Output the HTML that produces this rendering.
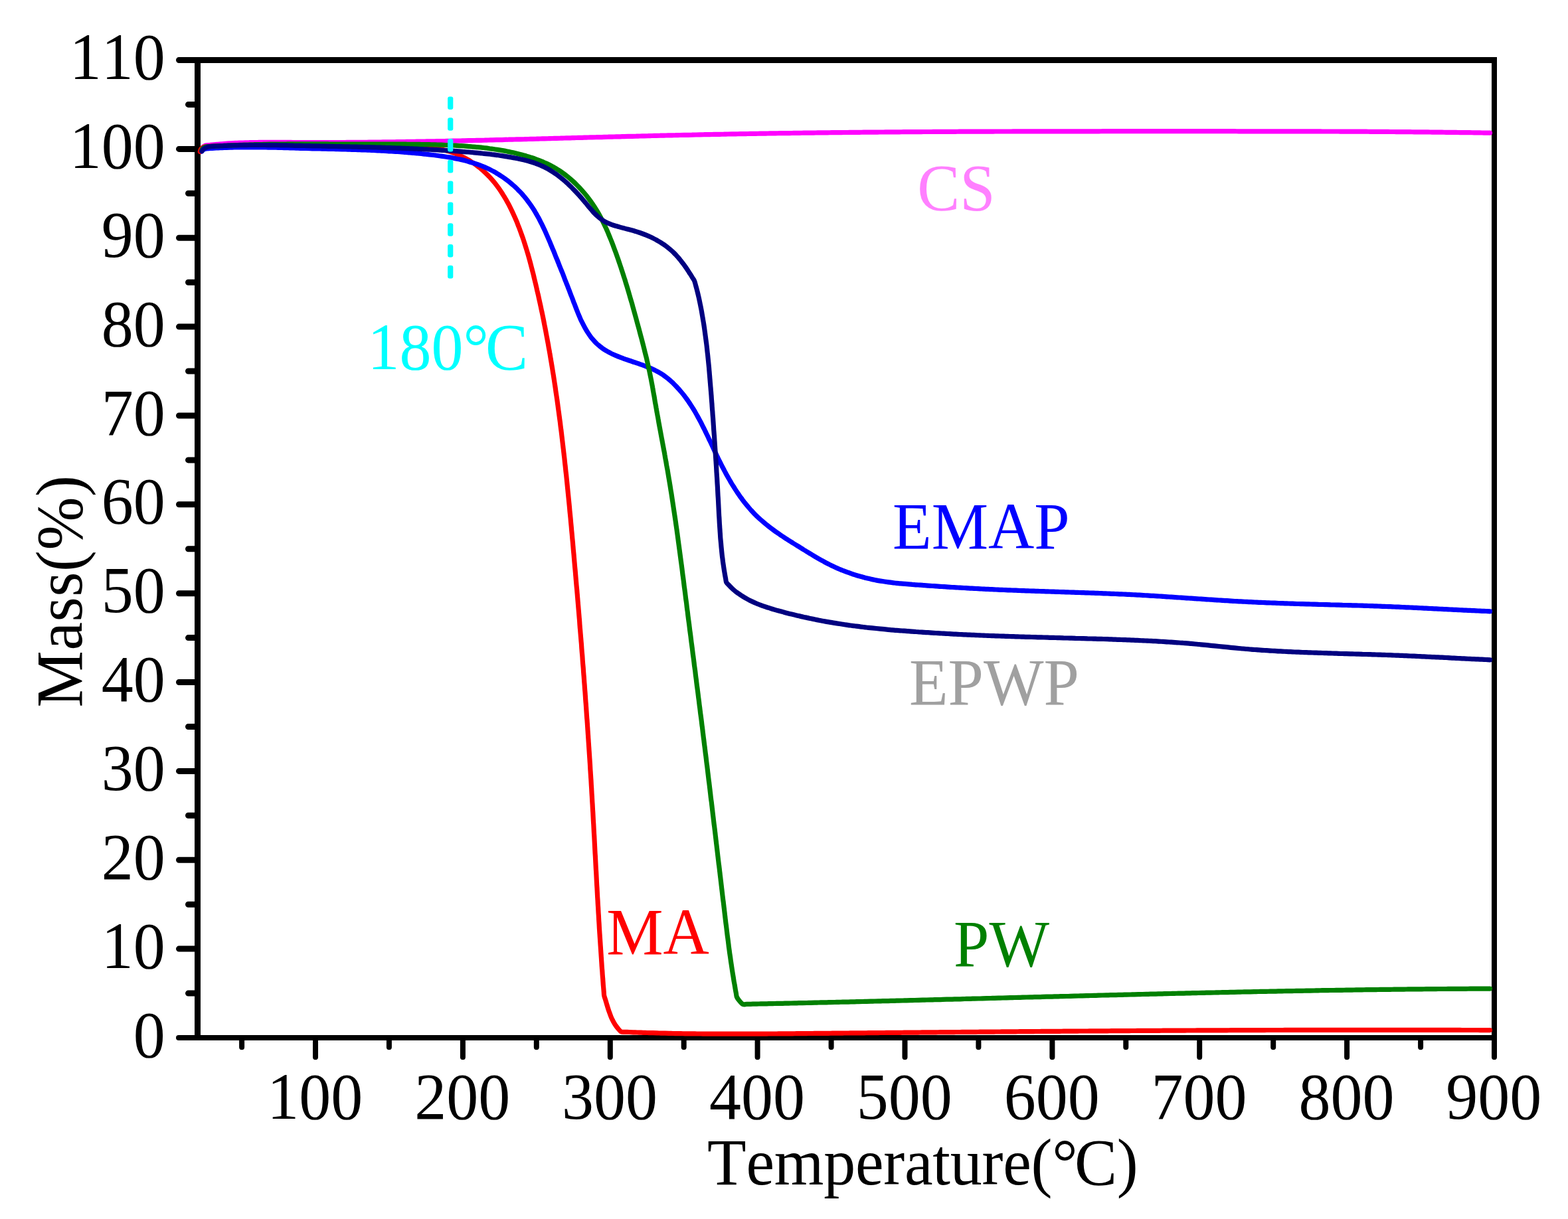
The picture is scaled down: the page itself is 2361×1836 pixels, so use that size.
<!DOCTYPE html>
<html lang="en">
<head>
<meta charset="utf-8">
<title>TG curves: Mass(%) vs Temperature(°C)</title>
<style>
html,body{margin:0;padding:0;background:#fff;}
body{width:2361px;height:1836px;overflow:hidden;}
svg{display:block;}
text{font-family:"Liberation Serif","DejaVu Serif",serif;font-size:96px;font-kerning:none;}
.c{fill:none;stroke-width:7.2;stroke-linejoin:round;stroke-linecap:round;}
</style>
</head>
<body>
<svg width="2361" height="1836" viewBox="0 0 2361 1836" role="img" aria-label="Thermogravimetric curves: Mass(%) versus Temperature(°C) for CS, EMAP, EPWP, MA and PW">
<rect width="2361" height="1836" fill="#fff"/>
<g id="ticks" stroke="#000" stroke-linecap="round" fill="none">
<path stroke-width="9" d="M297.5,1496.1H283.5M297.5,1429.1H269.5M297.5,1362.2H283.5M297.5,1295.3H269.5M297.5,1228.3H283.5M297.5,1161.4H269.5M297.5,1094.5H283.5M297.5,1027.5H269.5M297.5,960.6H283.5M297.5,893.7H269.5M297.5,826.8H283.5M297.5,759.8H269.5M297.5,692.9H283.5M297.5,626.0H269.5M297.5,559.0H283.5M297.5,492.1H269.5M297.5,425.2H283.5M297.5,358.2H269.5M297.5,291.3H283.5M297.5,224.4H269.5M297.5,157.4H283.5M297.5,90.5H269.5"/>
<path stroke-width="8" d="M297.5,1563.0H269.0"/>
<path stroke-width="8" d="M364.1,1563.0V1577.3M475.0,1563.0V1592.2M585.9,1563.0V1577.3M696.9,1563.0V1592.2M807.8,1563.0V1577.3M918.8,1563.0V1592.2M1029.7,1563.0V1577.3M1140.6,1563.0V1592.2M1251.6,1563.0V1577.3M1362.5,1563.0V1592.2M1473.4,1563.0V1577.3M1584.4,1563.0V1592.2M1695.3,1563.0V1577.3M1806.2,1563.0V1592.2M1917.2,1563.0V1577.3M2028.1,1563.0V1592.2M2139.1,1563.0V1577.3M2250.0,1563.0V1592.2"/>
</g>
<g id="frame" fill="#000">
<rect x="293" y="86" width="9" height="1481"/>
<rect x="2246" y="86" width="8" height="1481"/>
<rect x="293" y="86" width="1961" height="9"/>
<rect x="293" y="1559" width="1961" height="8"/>
</g>
<g id="curves">
<path class="c" stroke="#ff00ff" d="M303.5,226.5c0.2-0.7 0.6-2.8 1.5-4.0c0.9-1.2 2.5-2.6 4.2-3.3c1.7-0.7 4-0.5 6-0.7c2-0.2 4-0.5 6-0.7c2-0.2 3.9-0.3 5.9-0.5c2-0.2 4-0.3 6-0.5c2-0.2 4-0.3 6-0.5c2-0.2 4-0.3 6-0.4c2-0.1 4-0.2 6-0.3c2-0.1 4-0.2 6-0.3c2-0.1 4-0.1 6-0.2c2-0.1 4-0.1 6-0.2c2-0.1 4-0.2 6-0.2c2-0.1 4-0.1 6-0.1c2-0 4-0.1 6-0.1c2-0 4-0.1 6-0.1c2-0 4,0 6,0.0c2-0 4-0.1 6-0.1c2-0 4-0 6,0.0c2,0 4,0.1 6,0.1c2,0 4,0 6,0.0c2,0 4.1,0 6.1,0.0c2,0 4-0 6,0.0c2,0 4,0.1 6,0.1c2,0 4,0 6,0.0c2,0 4-0 6,0.0c2,0 4,0.1 6,0.1c2,0 4,0 6,0.0c2,0 4,0 6,0.0c2,0 4,0 6,0.0c2,0 4,0 6,0.0c2,0 4,0 6,0.0c2,0 4.1,0 6.1,0.0c2,0 4,0 6,0.0c2-0 4-0.1 6-0.1c2-0 4,0 6,0.0c2,0 4,0 6,0.0c2-0 4-0.1 6-0.1c2-0 4,0 6,0.0c2,0 4,0 6,0.0c2-0 4-0.1 6-0.1c2-0 4,0 6,0.0c2-0 4-0.1 6-0.1c2-0 4.1,0 6.1,0.0c2-0 4-0.1 6-0.1c2-0 4-0.1 6-0.1c2-0 4-0.1 6-0.1c2-0 4,0 6,0.0c2-0 4-0.1 6-0.1c2-0 4-0.1 6-0.1c2-0 4-0.1 6-0.1c2-0 4-0.1 6-0.1c2-0 4-0.1 6-0.1c2-0 4-0.1 6-0.1c2-0 4-0.1 6-0.1c2-0 4-0.1 6-0.1c2-0 4.1-0.1 6.1-0.1c2-0 4-0.1 6-0.1c2-0 4-0.1 6-0.1c2-0 4-0.1 6-0.1c2-0 4-0.1 6-0.1c2-0 4-0 6-0.1c2-0.1 4-0.1 6-0.2c2-0.1 4-0.1 6-0.1c2-0 4-0.1 6-0.1c2-0 4-0 6-0.1c2-0.1 4-0.1 6-0.2c2-0.1 4-0.1 6-0.1c2-0 4-0.1 6-0.1c2-0 4-0.2 6-0.2c2-0 4-0 6-0.1c2-0.1 4.1-0.2 6.1-0.2c2-0.1 4-0 6-0.1c2-0.1 4-0.1 6-0.2c2-0.1 4-0.1 6-0.1c2-0 4-0.1 6-0.1c2-0 4-0.1 6-0.2c2-0.1 4-0.2 6-0.2c2-0.1 4-0.1 6-0.1c2-0 4-0.2 6-0.2c2-0 4-0 6-0.1c2-0.1 4-0.2 6-0.2c2-0.1 4-0 6-0.1c2-0.1 4-0.1 6-0.2c2-0.1 4-0.1 6-0.1c2-0.1 4-0.1 6-0.2c2-0.1 4-0.1 6-0.2c2-0.1 4.1-0.1 6.1-0.1c2-0.1 4-0.1 6-0.2c2-0.1 4-0.1 6-0.2c2-0.1 4-0.1 6-0.1c2-0.1 4-0.1 6-0.2c2-0.1 4-0 6-0.1c2-0.1 4-0.1 6-0.2c2-0.1 4-0.1 6-0.2c2-0.1 4-0 6-0.1c2-0.1 4-0.1 6-0.2c2-0.1 4-0.1 6-0.2c2-0.1 4-0 6-0.1c2-0.1 4-0.2 6-0.2c2-0.1 4-0.1 6-0.1c2-0 4-0.1 6-0.2c2-0.1 4-0.2 6-0.2c2-0.1 4.1-0.1 6.1-0.1c2-0 4-0.2 6-0.2c2-0 4-0 6-0.1c2-0.1 4-0.1 6-0.2c2-0.1 4-0.2 6-0.2c2-0 4-0 6-0.1c2-0.1 4-0.2 6-0.2c2-0.1 4-0 6-0.1c2-0.1 4-0.1 6-0.2c2-0.1 4-0.1 6-0.1c2-0.1 4-0.1 6-0.2c2-0.1 4-0 6-0.1c2-0.1 4-0.2 6-0.2c2-0.1 4-0.1 6-0.1c2-0 4-0.2 6-0.2c2-0 4.1-0.1 6.1-0.1c2-0 4-0.1 6-0.1c2-0.1 4-0.1 6-0.2c2-0.1 4-0.1 6-0.1c2-0 4-0 6-0.1c2-0.1 4-0.2 6-0.2c2-0.1 4-0.1 6-0.1c2-0 4-0 6-0.1c2-0.1 4-0.2 6-0.2c2-0.1 4-0.1 6-0.1c2-0 4-0.1 6-0.1c2-0 4-0.1 6-0.1c2-0 4-0.1 6-0.1c2-0 4-0.1 6-0.1c2-0.1 4-0.1 6-0.2c2-0.1 4.1-0.1 6.1-0.1c2-0 4-0.1 6-0.1c2-0 4-0.1 6-0.1c2-0 4-0.1 6-0.1c2-0 4-0.1 6-0.1c2-0 4-0.1 6-0.1c2-0 4-0.1 6-0.1c2-0 4-0.1 6-0.1c2-0 4-0.1 6-0.1c2-0 4-0.1 6-0.1c2-0 4-0.1 6-0.1c2-0 4-0.1 6-0.1c2-0 4-0.1 6-0.1c2-0 4,0 6,0.0c2-0 4.1-0.1 6.1-0.1c2-0 4-0.1 6-0.1c2-0 4-0.1 6-0.1c2-0 4-0.1 6-0.1c2-0 4-0.1 6-0.1c2-0 4,0 6,0.0c2-0 4-0.1 6-0.1c2-0 4-0.1 6-0.1c2-0 4-0.1 6-0.1c2-0 4,0 6,0.0c2-0 4-0.1 6-0.1c2-0 4-0.1 6-0.1c2-0 4,0 6,0.0c2-0 4.1-0.1 6.1-0.1c2-0 4-0.1 6-0.1c2-0 4,0 6,0.0c2-0 4-0.1 6-0.1c2-0 4,0 6,0.0c2-0 4-0.1 6-0.1c2-0 4-0.1 6-0.1c2-0 4,0 6,0.0c2-0 4-0.1 6-0.1c2-0 4,0 6,0.0c2-0 4-0.1 6-0.1c2-0 4,0 6,0.0c2-0 4.1-0.1 6.1-0.1c2-0 4,0 6,0.0c2-0 4-0.1 6-0.1c2-0 4,0 6,0.0c2-0 4-0.1 6-0.1c2-0 4,0 6,0.0c2,0 4,0 6,0.0c2-0 4-0.1 6-0.1c2-0 4,0 6,0.0c2-0 4-0.1 6-0.1c2-0 4,0 6,0.0c2,0 4,0 6,0.0c2-0 4.1-0.1 6.1-0.1c2-0 4,0 6,0.0c2,0 4,0 6,0.0c2-0 4-0.1 6-0.1c2-0 4,0 6,0.0c2,0 4,0 6,0.0c2-0 4-0.1 6-0.1c2-0 4,0 6,0.0c2,0 4,0 6,0.0c2,0 4,0 6,0.0c2-0 4-0.1 6-0.1c2-0 4,0 6,0.0c2,0 4.1,0 6.1,0.0c2,0 4,0 6,0.0c2,0 4,0 6,0.0c2-0 4-0.1 6-0.1c2-0 4,0 6,0.0c2,0 4,0 6,0.0c2,0 4,0 6,0.0c2,0 4,0 6,0.0c2-0 4-0.1 6-0.1c2-0 4,0 6,0.0c2,0 4,0 6,0.0c2,0 4,0 6,0.0c2,0 4.1,0 6.1,0.0c2,0 4,0 6,0.0c2,0 4,0 6,0.0c2,0 4,0 6,0.0c2-0 4-0.1 6-0.1c2-0 4,0 6,0.0c2,0 4,0 6,0.0c2,0 4,0 6,0.0c2,0 4,0 6,0.0c2,0 4,0 6,0.0c2,0 4,0 6,0.0c2,0 4,0 6,0.0c2,0 4.1,0 6.1,0.0c2,0 4,0 6,0.0c2,0 4,0 6,0.0c2,0 4,0 6,0.0c2,0 4,0 6,0.0c2,0 4,0 6,0.0c2-0 4-0.1 6-0.1c2-0 4,0 6,0.0c2,0 4,0 6,0.0c2,0 4,0 6,0.0c2,0 4,0 6,0.0c2,0 4.1,0 6.1,0.0c2,0 4,0 6,0.0c2,0 4,0 6,0.0c2,0 4,0 6,0.0c2,0 4,0 6,0.0c2,0 4,0 6,0.0c2,0 4,0 6,0.0c2,0 4,0 6,0.0c2,0 4,0 6,0.0c2,0 4,0 6,0.0c2,0 4,0 6,0.0c2,0 4,0 6,0.0c2,0 4.1,0 6.1,0.0c2,0 4,0 6,0.0c2,0 4,0 6,0.0c2,0 4,0 6,0.0c2,0 4,0 6,0.0c2,0 4,0 6,0.0c2,0 4,0 6,0.0c2,0 4,0 6,0.0c2,0 4,0 6,0.0c2,0 4,0 6,0.0c2,0 4,0 6,0.0c2,0 4,0 6,0.0c2,0 4.1,0 6.1,0.0c2,0 4,0 6,0.0c2,0 4,0 6,0.0c2,0 4,0 6,0.0c2,0 4-0 6,0.0c2,0 4,0.1 6,0.1c2,0 4,0 6,0.0c2,0 4,0 6,0.0c2,0 4,0 6,0.0c2,0 4,0 6,0.0c2,0 4,0 6,0.0c2,0 4,0 6,0.0c2,0 4.1,0 6.1,0.0c2,0 4,0 6,0.0c2,0 4,0 6,0.0c2,0 4,0 6,0.0c2,0 4,0 6,0.0c2,0 4,0 6,0.0c2,0 4,0 6,0.0c2,0 4-0 6,0.0c2,0 4,0.1 6,0.1c2,0 4,0 6,0.0c2,0 4,0 6,0.0c2,0 4,0 6,0.0c2,0 4.1,0 6.1,0.0c2,0 4-0 6,0.0c2,0 4,0.1 6,0.1c2,0 4,0 6,0.0c2,0 4,0 6,0.0c2,0 4,0 6,0.0c2,0 4-0 6,0.0c2,0 4,0.1 6,0.1c2,0 4,0 6,0.0c2,0 4,0 6,0.0c2,0 4-0 6,0.0c2,0 4,0.1 6,0.1c2,0 4.1,0 6.1,0.0c2,0 4-0 6,0.0c2,0 4,0.1 6,0.1c2,0 4-0 6,0.0c2,0 4,0.1 6,0.1c2,0 4,0 6,0.0c2,0 4-0 6,0.0c2,0 4,0.1 6,0.1c2,0 4-0 6,0.0c2,0 4,0.1 6,0.1c2,0 4-0 6,0.0c2,0 4,0.1 6,0.1c2,0 4-0 6,0.0c2,0 4.1,0.1 6.1,0.1c2,0 4-0 6,0.0c2,0 4,0.1 6,0.1c2,0 4-0 6,0.0c2,0 4,0.1 6,0.1c2,0 4,0.1 6,0.1c2,0 4-0 6,0.0c2,0 4,0.1 6,0.1c2,0 4,0.1 6,0.1c2,0 4-0 6,0.0c2,0 4,0.1 6,0.1c2,0 4,0.1 6,0.1c2,0 4,0.1 6,0.1c2,0 4.1,0.1 6.1,0.1c2,0 4-0 6,0.0c2,0 4,0.1 6,0.1c2,0 4,0.1 6,0.1c2,0 4,0.1 6,0.1c2,0 4,0.1 6,0.1c2,0 5,0.1 6,0.1"/>
<path class="c" stroke="#ff0000" d="M301.3,228.5c0.2-0.6 0.4-2.5 1-3.5c0.6-1 1.7-1.8 2.7-2.5c1-0.7 2.2-1.2 3.4-1.5c1.2-0.3 2-0.4 3.6-0.5c1.6-0.1 4-0.1 6-0.2c2-0.1 4-0.2 6-0.2c2-0.1 4-0.1 6-0.1c2-0 4-0.1 6-0.1c2-0 4-0.1 6-0.1c2-0 4-0.1 6-0.1c2-0 4-0.1 6-0.1c2-0 4-0.1 6-0.1c2-0 4-0.1 6-0.1c2-0 4,0 6,0.0c2-0 4-0.1 6-0.1c2-0 4,0 6,0.0c2,0 4.1,0 6.1,0.0c2,0 4,0 6,0.0c2,0 4,0 6,0.0c2,0 4,0 6,0.0c2,0 4-0 6,0.0c2,0 4,0.1 6,0.1c2,0 4,0 6,0.0c2,0 4-0 6,0.0c2,0 4,0.1 6,0.1c2,0 4,0 6,0.0c2,0 4-0 6,0.0c2,0 4,0.1 6,0.1c2,0 4-0 6,0.0c2,0 4,0.1 6,0.1c2,0 4-0 6,0.0c2,0 4,0.1 6,0.1c2,0 4-0 6,0.0c2,0 4,0.1 6,0.1c2,0 4,0 6,0.0c2,0 4,0 6,0.0c2,0 4-0 6,0.0c2,0 4,0.1 6,0.1c2,0 4,0 6,0.0c2,0 4,0 6,0.0c2,0 4,0 6,0.0c2,0 4,0 6,0.0c2,0 4,0 6,0.0c2-0 4-0.1 6-0.1c2-0 4,0 6,0.0c2-0 4-0.1 6-0.1c2-0 4.1,0 6.1,0.0c2-0 4-0.1 6-0.1c2-0 4,0 6,0.0c2,0 4,0 6,0.0c2,0 4-0 6,0.0c2,0 4,0.1 6,0.1c2,0 4,0.1 6,0.1c2,0 4,0 6,0.1c2,0.1 4,0.1 6,0.2c2,0.1 4,0.2 6,0.3c2,0.1 4,0.2 6,0.3c2,0.1 4,0.3 6,0.5c2,0.2 4,0.3 6,0.5c2,0.2 3.9,0.4 5.9,0.6c2,0.2 4,0.4 6,0.7c2,0.3 4,0.6 6,0.9c2,0.3 3.9,0.8 5.9,1.2c2,0.4 3.9,1 5.8,1.5c1.9,0.5 3.8,1.1 5.7,1.7c1.9,0.6 3.8,1.3 5.7,2.0c1.9,0.7 3.7,1.4 5.6,2.2c1.9,0.8 3.7,1.6 5.5,2.5c1.8,0.9 3.5,1.8 5.3,2.7c1.8,0.9 3.6,1.9 5.3,2.9c1.7,1 3.4,2.1 5.1,3.2c1.7,1.1 3.4,2.1 5,3.3c1.6,1.2 3.2,2.4 4.8,3.6c1.6,1.2 3.2,2.4 4.7,3.7c1.5,1.3 3,2.6 4.5,4.0c1.5,1.4 2.9,2.7 4.3,4.1c1.4,1.4 2.8,2.8 4.2,4.3c1.4,1.4 2.7,2.9 4,4.4c1.3,1.5 2.6,3 3.8,4.6c1.2,1.6 2.4,3.2 3.6,4.8c1.2,1.6 2.4,3.2 3.5,4.8c1.1,1.6 2.2,3.3 3.3,5.0c1.1,1.7 2.1,3.4 3.2,5.1c1,1.7 2.1,3.4 3.1,5.2c1,1.8 1.9,3.5 2.9,5.3c1,1.8 1.9,3.5 2.8,5.3c0.9,1.8 1.8,3.6 2.7,5.4c0.9,1.8 1.7,3.7 2.5,5.5c0.8,1.8 1.7,3.7 2.5,5.5c0.8,1.8 1.6,3.7 2.4,5.5c0.8,1.8 1.5,3.7 2.2,5.6c0.7,1.9 1.5,3.7 2.2,5.6c0.7,1.9 1.4,3.8 2.1,5.7c0.7,1.9 1.3,3.7 2,5.6c0.7,1.9 1.4,3.8 2,5.7c0.6,1.9 1.2,3.8 1.8,5.7c0.6,1.9 1.2,3.8 1.8,5.7c0.6,1.9 1.2,3.9 1.8,5.8c0.6,1.9 1.1,3.8 1.7,5.7c0.5,1.9 1.1,3.9 1.6,5.8c0.5,1.9 1.1,3.9 1.6,5.8c0.5,1.9 1,3.9 1.5,5.8c0.5,1.9 1,3.9 1.5,5.8c0.5,1.9 1,3.8 1.5,5.8c0.5,1.9 0.9,4 1.4,5.9c0.5,1.9 0.9,3.9 1.4,5.8c0.5,1.9 0.9,3.9 1.4,5.9c0.5,1.9 0.9,3.9 1.3,5.8c0.5,1.9 0.9,3.9 1.4,5.8c0.5,1.9 0.9,3.9 1.3,5.9c0.4,2 0.9,3.9 1.3,5.9c0.4,1.9 0.9,3.9 1.3,5.8c0.4,1.9 0.8,4 1.2,5.9c0.4,1.9 0.9,3.8 1.3,5.8c0.4,1.9 0.8,3.9 1.2,5.9c0.4,2 0.8,3.9 1.2,5.9c0.4,2 0.7,3.9 1.1,5.9c0.4,2 0.8,3.9 1.2,5.9c0.4,2 0.7,3.9 1.1,5.9c0.4,1.9 0.7,3.9 1.1,5.8c0.4,1.9 0.7,3.9 1.1,5.9c0.4,2 0.8,3.9 1.1,5.9c0.4,2 0.6,3.9 1,5.9c0.4,2 0.8,4 1.1,6.0c0.4,2 0.7,3.9 1,5.9c0.3,2 0.7,3.9 1,5.9c0.3,2 0.7,3.9 1,5.9c0.3,2 0.7,3.9 1,5.9c0.3,2 0.6,3.9 0.9,5.9c0.3,2 0.7,4 1,6.0c0.3,2 0.6,3.9 0.9,5.9c0.3,2 0.6,3.9 0.9,5.9c0.3,2 0.6,3.9 0.9,5.9c0.3,2 0.5,4 0.8,6.0c0.3,2 0.6,3.9 0.9,5.9c0.3,2 0.6,4 0.9,6.0c0.3,2 0.5,3.9 0.8,5.9c0.3,2 0.5,4 0.8,6.0c0.3,2 0.5,3.9 0.8,5.9c0.3,2 0.5,4 0.8,6.0c0.3,2 0.5,3.9 0.8,5.9c0.3,2 0.6,4 0.8,6.0c0.2,2 0.4,3.9 0.7,5.9c0.2,2 0.6,4 0.8,6.0c0.2,2 0.5,3.9 0.7,5.9c0.2,2 0.5,4 0.7,6.0c0.2,2 0.5,4 0.7,6.0c0.2,2 0.5,3.9 0.7,5.9c0.2,2 0.5,4 0.7,6.0c0.2,2 0.5,4 0.7,6.0c0.2,2 0.5,3.9 0.7,5.9c0.2,2 0.4,4 0.6,6.0c0.2,2 0.5,4 0.7,6.0c0.2,2 0.4,4 0.6,6.0c0.2,2 0.5,3.9 0.7,5.9c0.2,2 0.4,4 0.6,6.0c0.2,2 0.4,4 0.6,6.0c0.2,2 0.4,4 0.6,6.0c0.2,2 0.4,3.9 0.6,5.9c0.2,2 0.4,4 0.6,6.0c0.2,2 0.4,4 0.6,6.0c0.2,2 0.4,4 0.6,6.0c0.2,2 0.4,4 0.6,6.0c0.2,2 0.3,4 0.5,6.0c0.2,2 0.4,3.9 0.6,5.9c0.2,2 0.4,4 0.6,6.0c0.2,2 0.3,4 0.5,6.0c0.2,2 0.4,4 0.6,6.0c0.2,2 0.3,4 0.5,6.0c0.2,2 0.4,4 0.6,6.0c0.2,2 0.3,3.9 0.5,5.9c0.2,2 0.4,4 0.6,6.0c0.2,2 0.3,4 0.5,6.0c0.2,2 0.3,4 0.5,6.0c0.2,2 0.4,4 0.6,6.0c0.2,2 0.3,4 0.5,6.0c0.2,2 0.3,3.9 0.5,5.9c0.2,2 0.3,4 0.5,6.0c0.2,2 0.4,4 0.6,6.0c0.2,2 0.3,4 0.5,6.0c0.2,2 0.3,4 0.5,6.0c0.2,2 0.3,4 0.5,6.0c0.2,2 0.3,3.9 0.5,5.9c0.2,2 0.4,4 0.6,6.0c0.2,2 0.3,4 0.5,6.0c0.2,2 0.3,4 0.5,6.0c0.2,2 0.3,4 0.5,6.0c0.2,2 0.3,4 0.5,6.0c0.2,2 0.3,3.9 0.5,5.9c0.2,2 0.3,4 0.5,6.0c0.2,2 0.3,4 0.5,6.0c0.2,2 0.4,4 0.5,6.0c0.1,2 0.2,4 0.4,6.0c0.1,2 0.3,3.9 0.5,5.9c0.2,2 0.3,4 0.5,6.0c0.2,2 0.3,4 0.5,6.0c0.2,2 0.3,4 0.5,6.0c0.2,2 0.4,4 0.5,6.0c0.1,2 0.2,3.9 0.4,5.9c0.1,2 0.3,4 0.5,6.0c0.2,2 0.4,4 0.5,6.0c0.1,2 0.2,4 0.4,6.0c0.1,2 0.3,4 0.5,6.0c0.2,2 0.4,4 0.5,6.0c0.1,2 0.2,3.9 0.4,5.9c0.1,2 0.4,4 0.5,6.0c0.1,2 0.3,4 0.4,6.0c0.1,2 0.4,4 0.5,6.0c0.1,2 0.2,4 0.4,6.0c0.1,2 0.4,3.9 0.5,5.9c0.1,2 0.3,4 0.4,6.0c0.1,2 0.2,4 0.4,6.0c0.1,2 0.4,4 0.5,6.0c0.1,2 0.3,4 0.4,6.0c0.1,2 0.3,4 0.4,6.0c0.1,2 0.2,4 0.4,6.0c0.1,2 0.4,3.9 0.5,5.9c0.1,2 0.3,4 0.4,6.0c0.1,2 0.3,4 0.4,6.0c0.1,2 0.3,4 0.4,6.0c0.1,2 0.3,4 0.4,6.0c0.1,2 0.3,4 0.4,6.0c0.1,2 0.3,4 0.4,6.0c0.1,2 0.3,3.9 0.4,5.9c0.1,2 0.3,4 0.4,6.0c0.1,2 0.3,4 0.4,6.0c0.1,2 0.3,4 0.4,6.0c0.1,2 0.3,4 0.4,6.0c0.1,2 0.2,4 0.3,6.0c0.1,2 0.3,4 0.4,6.0c0.1,2 0.3,4 0.4,6.0c0.1,2 0.3,4 0.4,6.0c0.1,2 0.2,3.9 0.3,5.9c0.1,2 0.3,4 0.4,6.0c0.1,2 0.2,4 0.3,6.0c0.1,2 0.3,4 0.4,6.0c0.1,2 0.2,4 0.3,6.0c0.1,2 0.3,4 0.4,6.0c0.1,2 0.2,4 0.3,6.0c0.1,2 0.3,4 0.4,6.0c0.1,2 0.2,4 0.3,6.0c0.1,2 0.2,4 0.3,6.0c0.1,2 0.3,4 0.4,6.0c0.1,2 0.2,4 0.3,6.0c0.1,2 0.2,4 0.3,6.0c0.1,2 0.3,4 0.4,6.0c0.1,2 0.2,4 0.3,6.0c0.1,2 0.2,4 0.3,6.0c0.1,2 0.2,4 0.3,6.0c0.1,2 0.2,4 0.3,6.0c0.1,2 0.3,4 0.4,6.0c0.1,2 0.2,4 0.3,6.0c0.1,2 0.2,4 0.3,6.0c0.1,2 0.2,4 0.3,6.0c0.1,2 0.3,4 0.4,6.0c0.1,2 0.2,4 0.3,6.0c0.1,2 0.2,4 0.3,6.0c0.1,2 0.2,4 0.3,6.0c0.1,2 0.3,4 0.4,6.0c0.1,2 0.2,4 0.3,6.0c0.1,2 0.2,4 0.3,6.0c0.1,2 0.3,4 0.4,6.0c0.1,2 0.2,4 0.3,6.0c0.1,2 0.3,4 0.4,6.0c0.1,2 0.2,4 0.3,6.0c0.1,2 0.3,4 0.4,6.0c0.1,2 0.2,4 0.3,6.0c0.1,2 0.3,3.9 0.4,5.9c0.1,2 0.2,4 0.3,6.0c0.1,2 0.3,4 0.4,6.0c0.1,2 0.3,4 0.4,6.0c0.1,2 0.3,4 0.4,6.0c0.1,2 0.3,4 0.4,6.0c0.1,2 0.3,4 0.4,6.0c0.1,2 0.3,4 0.4,6.0c0.1,2 0.3,4 0.4,6.0c0.1,2 0.3,4 0.4,6.0c0.1,2 0.3,4 0.4,6.0c0.1,2 0.2,3.9 0.4,5.9c0.1,2 0.4,4 0.5,6.0c0.1,2 0.2,4 0.4,6.0c0.1,2 0.4,4 0.5,6.0c0.1,2 0.3,4 0.4,6.0c0.1,2 0.3,3.9 0.5,5.9c0.2,2 0.3,4 0.5,6.0c0.2,2 0.1,4 0.5,6.0c0.4,2 1.2,3.8 1.8,5.7c0.6,1.9 1.1,3.9 1.7,5.9c0.6,2 1.2,3.9 1.8,5.9c0.6,2 1.2,3.9 1.9,5.8c0.7,1.9 1.4,3.9 2.1,5.8c0.7,1.9 1.4,3.8 2.3,5.6c0.9,1.8 1.8,3.7 2.8,5.5c1,1.8 2,3.5 3.2,5.1c1.1,1.6 2.4,3.2 3.7,4.7c1.4,1.5 2.7,3.6 4.4,4.4c1.7,0.8 4,0.2 6,0.3c2,0.1 4,0.1 6,0.2c2,0.1 4,0.2 6,0.3c2,0.1 4,0.1 6,0.2c2,0.1 4,0.1 6,0.2c2,0.1 4,0.1 6,0.2c2,0.1 4,0.1 6,0.2c2,0 4,0.1 6,0.1c2,0 4,0.1 6,0.2c2,0.1 3.9,0.1 5.9,0.2c2,0 4,0.1 6,0.1c2,0 4,0 6,0.1c2,0 4,0.2 6,0.2c2,0 4,0.1 6,0.1c2,0 4,0.1 6,0.1c2,0 4,0.1 6,0.1c2,0 4-0 6,0.0c2,0 4,0.1 6,0.1c2,0 4,0.1 6,0.1c2,0 4-0 6,0.0c2,0 4,0.1 6,0.1c2,0 4-0 6,0.0c2,0 4,0.1 6,0.1c2,0 4,0 6,0.0c2,0 4,0 6,0.0c2,0 4,0 6,0.0c2,0 4,0 6,0.0c2,0 4,0 6,0.0c2,0 4,0 6,0.0c2,0 4,0 6,0.0c2,0 4,0 6,0.0c2,0 4,0 6,0.0c2,0 4,0 6,0.0c2-0 4-0.1 6-0.1c2-0 4,0 6,0.0c2,0 4,0 6,0.0c2-0 4.1-0.1 6.1-0.1c2-0 4,0 6,0.0c2,0 4,0 6,0.0c2-0 4-0.1 6-0.1c2-0 4,0 6,0.0c2-0 4-0.1 6-0.1c2-0 4,0 6,0.0c2-0 4-0.1 6-0.1c2-0 4-0.1 6-0.1c2-0 4,0 6,0.0c2-0 4-0.1 6-0.1c2-0 4,0 6,0.0c2-0 4-0.1 6-0.1c2-0 4,0 6,0.0c2-0 4-0.1 6-0.1c2-0 4,0 6,0.0c2-0 4-0.1 6-0.1c2-0 4-0.1 6-0.1c2-0 4,0 6,0.0c2-0 4-0.1 6-0.1c2-0 4,0 6,0.0c2-0 4-0.1 6-0.1c2-0 4,0 6,0.0c2-0 4-0.1 6-0.1c2-0 4,0 6,0.0c2-0 4-0.1 6-0.1c2-0 4-0.1 6-0.1c2-0 4,0 6,0.0c2-0 4-0.1 6-0.1c2-0 4,0 6,0.0c2-0 4-0.1 6-0.1c2-0 4,0 6,0.0c2-0 4-0.1 6-0.1c2-0 4,0 6,0.0c2-0 4-0.1 6-0.1c2-0 4,0 6,0.0c2-0 4-0.1 6-0.1c2-0 4,0 6,0.0c2-0 4-0.1 6-0.1c2-0 4-0.1 6-0.1c2-0 4,0 6,0.0c2-0 4-0.1 6-0.1c2-0 4,0 6,0.0c2-0 4-0.1 6-0.1c2-0 4,0 6,0.0c2-0 4-0.1 6-0.1c2-0 4,0 6,0.0c2-0 4-0.1 6-0.1c2-0 4,0 6,0.0c2-0 4-0.1 6-0.1c2-0 4,0 6,0.0c2-0 4-0.1 6-0.1c2-0 4,0 6,0.0c2-0 4-0.1 6-0.1c2-0 4,0 6,0.0c2-0 4-0.1 6-0.1c2-0 4,0 6,0.0c2-0 4-0.1 6-0.1c2-0 4,0 6,0.0c2-0 4-0.1 6-0.1c2-0 4,0 6,0.0c2-0 4-0.1 6-0.1c2-0 4,0 6,0.0c2-0 4-0.1 6-0.1c2-0 4,0 6,0.0c2-0 4-0.1 6-0.1c2-0 4,0 6,0.0c2-0 4-0.1 6-0.1c2-0 4,0 6,0.0c2-0 4-0.1 6-0.1c2-0 4,0 6,0.0c2,0 4,0 6,0.0c2-0 4-0.1 6-0.1c2-0 4,0 6,0.0c2-0 4-0.1 6-0.1c2-0 4,0 6,0.0c2-0 4-0.1 6-0.1c2-0 4,0 6,0.0c2-0 4-0.1 6-0.1c2-0 4,0 6,0.0c2,0 4,0 6,0.0c2-0 4-0.1 6-0.1c2-0 4,0 6,0.0c2-0 4-0.1 6-0.1c2-0 4,0 6,0.0c2,0 4,0 6,0.0c2-0 4-0.1 6-0.1c2-0 4,0 6,0.0c2-0 4-0.1 6-0.1c2-0 4,0 6,0.0c2,0 4,0 6,0.0c2-0 4-0.1 6-0.1c2-0 4,0 6,0.0c2-0 4-0.1 6-0.1c2-0 4,0 6,0.0c2,0 4,0 6,0.0c2-0 4-0.1 6-0.1c2-0 4,0 6,0.0c2,0 4,0 6,0.0c2-0 4-0.1 6-0.1c2-0 4,0 6,0.0c2,0 4,0 6,0.0c2-0 4-0.1 6-0.1c2-0 4,0 6,0.0c2,0 4,0 6,0.0c2-0 4-0.1 6-0.1c2-0 4,0 6,0.0c2,0 4,0 6,0.0c2-0 4-0.1 6-0.1c2-0 4,0 6,0.0c2,0 4,0 6,0.0c2,0 4,0 6,0.0c2-0 4-0.1 6-0.1c2-0 4,0 6,0.0c2,0 4,0 6,0.0c2,0 4,0 6,0.0c2-0 4-0.1 6-0.1c2-0 4,0 6,0.0c2,0 4,0 6,0.0c2,0 4,0 6,0.0c2-0 4-0.1 6-0.1c2-0 4,0 6,0.0c2,0 4,0 6,0.0c2,0 4,0 6,0.0c2,0 4,0 6,0.0c2-0 4-0.1 6-0.1c2-0 4,0 6,0.0c2,0 4,0 6,0.0c2,0 4,0 6,0.0c2,0 4,0 6,0.0c2-0 4-0.1 6-0.1c2-0 4,0 6,0.0c2,0 4,0 6,0.0c2,0 4,0 6,0.0c2,0 4,0 6,0.0c2,0 4,0 6,0.0c2,0 4,0 6,0.0c2-0 4-0.1 6-0.1c2-0 4,0 6,0.0c2,0 4,0 6,0.0c2,0 4,0 6,0.0c2,0 4,0 6,0.0c2,0 4.1,0 6.1,0.0c2,0 4,0 6,0.0c2,0 4,0 6,0.0c2,0 4,0 6,0.0c2,0 4,0 6,0.0c2,0 4,0 6,0.0c2,0 4,0 6,0.0c2,0 4,0 6,0.0c2,0 4,0 6,0.0c2,0 4,0 6,0.0c2,0 4,0 6,0.0c2,0 4,0 6,0.0c2,0 4,0 6,0.0c2,0 4,0 6,0.0c2,0 4,0 6,0.0c2,0 4,0 6,0.0c2,0 4,0 6,0.0c2,0 4,0 6,0.0c2,0 4,0 6,0.0c2,0 4,0 6,0.0c2,0 4,0 6,0.0c2,0 4,0 6,0.0c2,0 4,0 6,0.0c2,0 4,0 6,0.0c2,0 4,0 6,0.0c2,0 4-0 6,0.0c2,0 4,0.1 6,0.1c2,0 4,0 6,0.0c2,0 4,0 6,0.0c2,0 4,0 6,0.0c2,0 4,0 6,0.0c2,0 4-0 6,0.0c2,0 4,0.1 6,0.1c2,0 4,0 6,0.0c2,0 4,0 6,0.0c2,0 4,0 6,0.0c2,0 4-0 6,0.0c2,0 4,0.1 6,0.1c2,0 4,0 6,0.0c2,0 5,0 6,0.0"/>
<path class="c" stroke="#0000ff" d="M304,228.0c0.2-0.3 0.4-1.3 1.5-2.0c1.1-0.7 3.2-1.7 5.1-2.1c1.9-0.4 4-0.3 6-0.4c2-0.1 4-0.3 6-0.4c2-0.1 4-0.2 6-0.3c2-0.1 4-0.1 6-0.2c2-0.1 4-0.2 6-0.3c2-0.1 4-0.1 6-0.1c2-0.1 4-0.1 6-0.2c2-0.1 4-0.1 6-0.1c2-0 4-0.1 6-0.1c2-0 4,0 6,0.0c2,0 4,0 6,0.0c2,0 4,0 6,0.0c2,0 4-0 6,0.0c2,0 4,0.1 6,0.1c2,0 4,0.1 6,0.1c2,0 4,0.1 6,0.1c2,0 4,0.1 6,0.1c2,0 4,0.1 6,0.1c2,0.1 4,0.1 6,0.2c2,0.1 4,0 6,0.1c2,0.1 4,0.1 6,0.2c2,0.1 4.1,0.1 6.1,0.2c2,0.1 4,0 6,0.1c2,0.1 4,0.2 6,0.2c2,0.1 4,0.1 6,0.1c2,0 4,0.1 6,0.2c2,0.1 4,0.2 6,0.2c2,0.1 4,0.1 6,0.1c2,0 4,0.2 6,0.2c2,0 4,0 6,0.1c2,0.1 4,0.2 6,0.2c2,0.1 4,0 6,0.1c2,0.1 4,0.1 6,0.2c2,0.1 4,0.1 6,0.1c2,0.1 4,0.1 6,0.2c2,0.1 4,0.1 6,0.2c2,0.1 4,0.1 6,0.2c2,0.1 4,0.1 6,0.2c2,0.1 4,0.1 6,0.2c2,0.1 4,0.1 6,0.2c2,0.1 3.9,0.1 5.9,0.2c2,0.1 4,0.2 6,0.3c2,0.1 4,0.2 6,0.3c2,0.1 4,0.2 6,0.3c2,0.1 4,0.2 6,0.3c2,0.1 4,0.3 6,0.4c2,0.1 4,0.2 6,0.3c2,0.1 4,0.3 6,0.4c2,0.1 4,0.2 6,0.4c2,0.2 4,0.3 6,0.5c2,0.2 3.9,0.3 5.9,0.5c2,0.2 4,0.3 6,0.5c2,0.2 4,0.3 6,0.5c2,0.2 4,0.4 6,0.6c2,0.2 4,0.5 6,0.7c2,0.2 4,0.4 6,0.6c2,0.2 4,0.4 6,0.7c2,0.2 3.9,0.5 5.9,0.8c2,0.3 4,0.5 6,0.8c2,0.3 4,0.6 6,0.9c2,0.3 3.9,0.6 5.9,0.9c2,0.3 3.9,0.7 5.9,1.1c2,0.4 3.9,0.8 5.9,1.2c2,0.4 3.9,0.8 5.9,1.2c2,0.4 3.9,0.9 5.8,1.4c1.9,0.5 3.9,1.1 5.8,1.6c1.9,0.5 3.8,1.1 5.7,1.7c1.9,0.6 3.8,1.2 5.7,1.8c1.9,0.6 3.8,1.3 5.7,2.0c1.9,0.7 3.7,1.4 5.6,2.2c1.9,0.8 3.7,1.6 5.5,2.4c1.8,0.8 3.6,1.7 5.4,2.6c1.8,0.9 3.5,1.8 5.3,2.8c1.8,1 3.5,2.1 5.2,3.1c1.7,1.1 3.3,2.1 5,3.2c1.7,1.1 3.4,2.2 5,3.4c1.6,1.2 3.2,2.4 4.8,3.6c1.6,1.2 3.2,2.5 4.7,3.8c1.5,1.3 3.1,2.6 4.6,3.9c1.5,1.3 3,2.7 4.4,4.1c1.4,1.4 2.8,2.9 4.2,4.3c1.4,1.4 2.8,2.9 4.1,4.4c1.3,1.5 2.6,3.1 3.9,4.6c1.3,1.6 2.5,3.1 3.7,4.7c1.2,1.6 2.4,3.2 3.6,4.8c1.2,1.6 2.3,3.2 3.4,4.9c1.1,1.6 2.2,3.3 3.2,5.0c1,1.7 2,3.5 3,5.2c1,1.7 2,3.5 3,5.2c1,1.8 1.9,3.5 2.8,5.3c0.9,1.8 1.8,3.5 2.7,5.3c0.9,1.8 1.7,3.6 2.6,5.4c0.9,1.8 1.8,3.7 2.6,5.5c0.8,1.8 1.6,3.7 2.4,5.5c0.8,1.8 1.6,3.6 2.4,5.5c0.8,1.9 1.6,3.7 2.4,5.6c0.8,1.9 1.5,3.8 2.3,5.6c0.8,1.9 1.5,3.7 2.3,5.5c0.8,1.8 1.6,3.7 2.3,5.6c0.8,1.9 1.4,3.8 2.2,5.6c0.8,1.9 1.6,3.6 2.3,5.5c0.8,1.9 1.5,3.8 2.2,5.6c0.7,1.9 1.5,3.6 2.2,5.5c0.8,1.9 1.5,3.7 2.3,5.6c0.8,1.9 1.5,3.7 2.2,5.6c0.7,1.9 1.4,3.7 2.1,5.6c0.7,1.9 1.5,3.6 2.2,5.5c0.7,1.9 1.5,3.7 2.2,5.6c0.7,1.9 1.5,3.7 2.2,5.6c0.7,1.9 1.4,3.7 2.1,5.6c0.7,1.9 1.5,3.7 2.2,5.6c0.7,1.9 1.4,3.7 2.1,5.6c0.7,1.9 1.5,3.7 2.2,5.6c0.7,1.9 1.5,3.8 2.2,5.7c0.7,1.9 1.5,3.8 2.2,5.6c0.8,1.9 1.5,3.7 2.3,5.5c0.8,1.8 1.5,3.7 2.4,5.5c0.9,1.8 1.8,3.6 2.7,5.4c0.9,1.8 1.8,3.6 2.8,5.4c1,1.8 1.9,3.5 3,5.2c1.1,1.7 2.2,3.4 3.3,5.1c1.1,1.7 2.3,3.3 3.5,4.9c1.2,1.6 2.6,3.1 3.9,4.6c1.3,1.5 2.7,2.9 4.1,4.3c1.4,1.4 2.9,2.6 4.4,3.9c1.5,1.2 3.1,2.5 4.7,3.6c1.6,1.1 3.2,2.2 4.9,3.2c1.7,1 3.4,2 5.2,2.9c1.8,0.9 3.5,1.9 5.3,2.7c1.8,0.9 3.6,1.6 5.5,2.4c1.9,0.8 3.7,1.5 5.6,2.2c1.9,0.7 3.8,1.5 5.7,2.2c1.9,0.7 3.9,1.4 5.8,2.0c1.9,0.6 3.9,1.3 5.8,1.9c1.9,0.6 3.9,1.3 5.8,2.0c1.9,0.7 3.8,1.3 5.7,2.0c1.9,0.7 3.8,1.3 5.7,2.0c1.9,0.7 3.7,1.4 5.6,2.1c1.9,0.7 3.8,1.5 5.6,2.3c1.8,0.8 3.6,1.5 5.4,2.4c1.8,0.9 3.5,1.8 5.2,2.7c1.7,1 3.4,2 5.1,3.0c1.7,1 3.4,2.1 5,3.3c1.6,1.1 3.2,2.4 4.8,3.6c1.6,1.2 3.1,2.6 4.6,3.9c1.5,1.3 2.9,2.7 4.4,4.1c1.5,1.4 2.9,2.9 4.3,4.4c1.4,1.5 2.8,2.9 4.1,4.4c1.3,1.5 2.6,3.1 3.9,4.6c1.3,1.5 2.6,3.1 3.8,4.7c1.2,1.6 2.4,3.2 3.6,4.8c1.2,1.6 2.3,3.2 3.4,4.9c1.1,1.6 2.2,3.3 3.3,5.0c1.1,1.7 2.1,3.3 3.2,5.0c1,1.7 2.1,3.4 3.1,5.1c1,1.7 1.9,3.5 2.9,5.2c1,1.8 2,3.5 2.9,5.3c1,1.8 1.9,3.4 2.8,5.2c0.9,1.8 1.8,3.6 2.7,5.4c0.9,1.8 1.8,3.5 2.7,5.3c0.9,1.8 1.7,3.6 2.6,5.4c0.9,1.8 1.7,3.6 2.6,5.4c0.9,1.8 1.7,3.7 2.6,5.5c0.9,1.8 1.8,3.6 2.6,5.4c0.8,1.8 1.7,3.7 2.5,5.5c0.8,1.8 1.7,3.7 2.6,5.5c0.9,1.8 1.7,3.6 2.6,5.4c0.9,1.8 1.7,3.7 2.6,5.5c0.9,1.8 1.8,3.6 2.7,5.4c0.9,1.8 1.8,3.6 2.7,5.4c0.9,1.8 1.9,3.6 2.8,5.4c0.9,1.8 1.9,3.5 2.8,5.3c1,1.8 1.9,3.5 2.9,5.3c1,1.8 2,3.5 3,5.2c1,1.7 2,3.5 3,5.2c1,1.7 2.1,3.4 3.2,5.1c1.1,1.7 2.1,3.4 3.2,5.1c1.1,1.7 2.2,3.4 3.3,5.0c1.1,1.6 2.2,3.3 3.4,4.9c1.2,1.6 2.3,3.2 3.5,4.8c1.2,1.6 2.4,3.1 3.6,4.7c1.2,1.5 2.5,3.1 3.8,4.6c1.3,1.5 2.6,3.1 3.9,4.6c1.3,1.5 2.7,2.9 4,4.4c1.3,1.5 2.7,2.9 4.1,4.3c1.4,1.4 2.8,2.7 4.3,4.1c1.5,1.4 3,2.8 4.5,4.1c1.5,1.3 3,2.6 4.5,3.9c1.5,1.3 3.1,2.5 4.7,3.8c1.6,1.3 3.2,2.6 4.8,3.8c1.6,1.2 3.2,2.4 4.8,3.6c1.6,1.2 3.2,2.4 4.9,3.5c1.6,1.1 3.3,2.3 5,3.4c1.7,1.1 3.3,2.3 5,3.4c1.7,1.1 3.3,2.2 5,3.3c1.7,1.1 3.3,2.1 5,3.2c1.7,1.1 3.4,2.2 5.1,3.2c1.7,1 3.4,2.1 5.1,3.1c1.7,1 3.4,2.1 5.1,3.2c1.7,1.1 3.4,2.2 5.1,3.2c1.7,1 3.4,2.1 5.1,3.1c1.7,1 3.4,2.1 5.1,3.1c1.7,1 3.5,2.1 5.2,3.1c1.7,1 3.4,2 5.1,3.0c1.7,1 3.5,2 5.3,3.0c1.8,1 3.5,2 5.2,2.9c1.8,1 3.5,1.9 5.3,2.8c1.8,0.9 3.6,1.8 5.4,2.7c1.8,0.9 3.6,1.7 5.4,2.5c1.8,0.8 3.6,1.7 5.5,2.5c1.9,0.8 3.7,1.5 5.6,2.3c1.9,0.8 3.7,1.5 5.6,2.2c1.9,0.7 3.7,1.3 5.6,2.0c1.9,0.7 3.8,1.4 5.7,2.0c1.9,0.6 3.8,1.2 5.7,1.8c1.9,0.6 3.9,1.1 5.8,1.6c1.9,0.5 3.8,1.1 5.8,1.6c2,0.5 4,1 5.9,1.4c2,0.4 3.8,0.9 5.8,1.3c2,0.4 3.9,0.8 5.9,1.2c2,0.4 3.9,0.7 5.9,1.0c2,0.3 3.9,0.6 5.9,0.9c2,0.3 4,0.6 6,0.9c2,0.3 3.9,0.5 5.9,0.7c2,0.2 4,0.5 6,0.7c2,0.2 4,0.3 6,0.5c2,0.2 4,0.4 6,0.6c2,0.2 3.9,0.4 5.9,0.5c2,0.1 4,0.2 6,0.4c2,0.1 4,0.4 6,0.5c2,0.1 4,0.3 6,0.4c2,0.1 4,0.4 6,0.5c2,0.1 4,0.3 6,0.4c2,0.1 4,0.3 6,0.4c2,0.1 4,0.3 6,0.4c2,0.1 4,0.3 6,0.4c2,0.1 4,0.3 6,0.4c2,0.1 4,0.3 6,0.4c2,0.1 4,0.3 6,0.4c2,0.1 4,0.2 6,0.3c2,0.1 3.9,0.3 5.9,0.4c2,0.1 4,0.2 6,0.3c2,0.1 4,0.3 6,0.4c2,0.1 4,0.2 6,0.3c2,0.1 4,0.2 6,0.3c2,0.1 4,0.2 6,0.3c2,0.1 4,0.3 6,0.4c2,0.1 4,0.1 6,0.2c2,0.1 4,0.2 6,0.3c2,0.1 4,0.2 6,0.3c2,0.1 4,0.2 6,0.3c2,0.1 4,0.1 6,0.2c2,0.1 4,0.2 6,0.3c2,0.1 4,0.1 6,0.2c2,0.1 4,0.1 6,0.2c2,0.1 4,0.2 6,0.3c2,0.1 4,0.1 6,0.2c2,0.1 4,0.1 6,0.2c2,0.1 4,0.1 6,0.2c2,0.1 4,0.1 6,0.2c2,0.1 4,0.1 6,0.2c2,0.1 4,0.1 6,0.2c2,0.1 4,0.1 6,0.2c2,0.1 4,0.1 6,0.2c2,0.1 4,0.1 6,0.2c2,0.1 4,0.1 6,0.2c2,0.1 4,0.1 6,0.2c2,0.1 4,0.1 6,0.2c2,0.1 4,0.1 6,0.2c2,0.1 4,0.1 6,0.2c2,0.1 4,0.1 6,0.2c2,0.1 4,0.1 6,0.2c2,0.1 4,0.1 6,0.2c2,0.1 4,0.1 6,0.2c2,0.1 4,0.1 6,0.2c2,0.1 4,0.1 6,0.2c2,0.1 4,0.2 6,0.3c2,0.1 4,0.1 6,0.2c2,0.1 4,0.2 6,0.3c2,0.1 4,0.1 6,0.2c2,0.1 4,0.2 6,0.3c2,0.1 4,0.1 6,0.2c2,0.1 4,0.2 6,0.3c2,0.1 4,0.2 6,0.3c2,0.1 4,0.2 6,0.3c2,0.1 4,0.2 6,0.3c2,0.1 4,0.3 6,0.4c2,0.1 4,0.2 6,0.3c2,0.1 4,0.3 6,0.4c2,0.1 4,0.2 6,0.3c2,0.1 4,0.3 6,0.4c2,0.1 4,0.3 6,0.4c2,0.1 4,0.3 6,0.4c2,0.1 4,0.3 6,0.4c2,0.1 3.9,0.3 5.9,0.4c2,0.1 4,0.3 6,0.4c2,0.1 4,0.3 6,0.4c2,0.1 4,0.3 6,0.4c2,0.1 4,0.3 6,0.4c2,0.1 4,0.3 6,0.4c2,0.1 4,0.3 6,0.4c2,0.1 4,0.3 6,0.4c2,0.1 4,0.3 6,0.4c2,0.1 4,0.3 6,0.4c2,0.1 4,0.3 6,0.4c2,0.1 3.9,0.3 5.9,0.4c2,0.1 4,0.3 6,0.4c2,0.1 4,0.2 6,0.3c2,0.1 4,0.3 6,0.4c2,0.1 4,0.3 6,0.4c2,0.1 4,0.2 6,0.3c2,0.1 4,0.2 6,0.3c2,0.1 4,0.2 6,0.3c2,0.1 4,0.2 6,0.3c2,0.1 4,0.2 6,0.3c2,0.1 4,0.2 6,0.3c2,0.1 4,0.1 6,0.2c2,0.1 4,0.2 6,0.3c2,0.1 4,0.1 6,0.2c2,0.1 4,0.1 6,0.2c2,0.1 4,0.2 6,0.3c2,0.1 4,0.1 6,0.2c2,0.1 4,0.1 6,0.2c2,0.1 4,0.1 6,0.2c2,0.1 4,0.1 6,0.2c2,0.1 4,0.2 6,0.2c2,0 4,0.1 6,0.1c2,0 4,0.1 6,0.2c2,0.1 4,0.1 6,0.2c2,0.1 4,0.2 6,0.2c2,0 4,0 6,0.1c2,0 4,0.1 6,0.2c2,0.1 4,0.2 6,0.2c2,0 4,0 6,0.1c2,0 4,0.1 6,0.2c2,0.1 4,0.2 6,0.2c2,0 4,0 6,0.1c2,0 4,0.1 6,0.2c2,0.1 4,0.1 6,0.2c2,0.1 4,0.1 6,0.2c2,0 4,0.1 6,0.1c2,0 4,0.1 6,0.2c2,0.1 4,0.1 6,0.2c2,0.1 4,0.1 6,0.2c2,0.1 4.1,0.1 6.1,0.2c2,0.1 4,0.1 6,0.2c2,0.1 4,0.2 6,0.3c2,0.1 4,0.1 6,0.2c2,0.1 4,0.1 6,0.2c2,0.1 4,0.2 6,0.3c2,0.1 4,0.1 6,0.2c2,0.1 4,0.2 6,0.3c2,0.1 3.9,0.2 5.9,0.3c2,0.1 4,0.1 6,0.2c2,0.1 4,0.2 6,0.3c2,0.1 4,0.2 6,0.3c2,0.1 4,0.2 6,0.3c2,0.1 4,0.2 6,0.3c2,0.1 4,0.2 6,0.3c2,0.1 4,0.2 6,0.3c2,0.1 4,0.2 6,0.3c2,0.1 4,0.2 6,0.3c2,0.1 4,0.2 6,0.3c2,0.1 4,0.2 6,0.3c2,0.1 4,0.2 6,0.3c2,0.1 4,0.2 6,0.3c2,0.1 4,0.2 6,0.3c2,0.1 4,0.2 6,0.3c2,0.1 4,0.1 6,0.2c2,0.1 4,0.2 6,0.3c2,0.1 4,0.2 6,0.3c2,0.1 4,0.2 6,0.3c2,0.1 4,0.1 6,0.2c2,0.1 5,0.2 6,0.3"/>
<path class="c" stroke="#008000" d="M303.5,227.0c0.2-0.5 0.4-2 1.5-3.0c1.1-1 3.2-2.4 5-3.0c1.8-0.6 4-0.3 6-0.4c2-0.1 4-0.3 6-0.4c2-0.1 4-0.2 6-0.3c2-0.1 4-0.2 6-0.3c2-0.1 4-0.2 6-0.3c2-0.1 4-0.2 6-0.3c2-0.1 4-0.2 6-0.3c2-0.1 4-0.1 6-0.2c2-0.1 4-0.1 6-0.2c2-0.1 4.1-0.1 6.1-0.2c2-0.1 4-0.1 6-0.2c2-0.1 4-0.2 6-0.2c2-0.1 4-0.1 6-0.1c2-0 4-0 6-0.1c2-0.1 4-0.1 6-0.2c2-0.1 4.1-0.1 6.1-0.1c2-0 4,0 6,0.0c2-0 4-0.1 6-0.1c2-0 4-0.1 6-0.1c2-0 4,0 6,0.0c2-0 4.1-0.1 6.1-0.1c2-0 4,0 6,0.0c2,0 4,0 6,0.0c2,0 4,0 6,0.0c2,0 4,0 6,0.0c2,0 4.1,0 6.1,0.0c2,0 4,0 6,0.0c2,0 4,0 6,0.0c2,0 4,0 6,0.0c2,0 4-0 6,0.0c2,0 4.1,0.1 6.1,0.1c2,0 4,0 6,0.0c2,0 4,0 6,0.0c2,0 4-0 6,0.0c2,0 4,0.1 6,0.1c2,0 4.1,0 6.1,0.0c2,0 4,0 6,0.0c2,0 4,0 6,0.0c2,0 4-0 6,0.0c2,0 4,0.1 6,0.1c2,0 4,0 6,0.0c2,0 4,0 6,0.0c2,0 4,0 6,0.0c2,0 4,0 6,0.0c2,0 4,0 6,0.0c2,0 4,0 6,0.0c2,0 4.1,0 6.1,0.0c2,0 4,0 6,0.0c2,0 4,0 6,0.0c2,0 4-0 6,0.0c2,0 4,0.1 6,0.1c2,0 4-0 6,0.0c2,0 4,0.1 6,0.1c2,0 4,0.1 6,0.1c2,0 4,0.1 6,0.1c2,0 4,0.1 6,0.1c2,0 4,0.1 6,0.1c2,0.1 4,0.1 6,0.2c2,0.1 4,0.1 6,0.2c2,0.1 4,0.2 6,0.3c2,0.1 4,0.1 6,0.2c2,0.1 4.1,0.2 6.1,0.3c2,0.1 4,0.3 6,0.4c2,0.1 4,0.2 6,0.3c2,0.1 4,0.2 6,0.4c2,0.2 4.1,0.3 6.1,0.5c2,0.2 4,0.3 6,0.5c2,0.2 4,0.3 6,0.5c2,0.2 4,0.4 6,0.6c2,0.2 4,0.5 6,0.7c2,0.2 4,0.5 6,0.8c2,0.3 4,0.5 6,0.8c2,0.3 3.9,0.6 5.9,0.9c2,0.3 4,0.7 6,1.0c2,0.3 3.9,0.6 5.9,1.0c2,0.4 3.9,0.8 5.9,1.2c2,0.4 3.9,0.8 5.9,1.2c2,0.4 3.9,0.9 5.9,1.4c2,0.5 3.9,1 5.8,1.5c1.9,0.5 3.9,1.1 5.8,1.6c1.9,0.6 3.8,1.1 5.7,1.7c1.9,0.6 3.8,1.2 5.7,1.8c1.9,0.6 3.8,1.3 5.7,2.0c1.9,0.7 3.7,1.4 5.6,2.1c1.9,0.7 3.7,1.5 5.6,2.3c1.9,0.8 3.7,1.6 5.5,2.4c1.8,0.8 3.5,1.8 5.3,2.7c1.8,0.9 3.6,1.9 5.3,2.9c1.7,1 3.4,1.9 5.1,3.0c1.7,1.1 3.5,2.2 5.1,3.3c1.6,1.1 3.2,2.3 4.8,3.5c1.6,1.2 3.2,2.4 4.8,3.7c1.6,1.2 3.1,2.5 4.6,3.8c1.5,1.3 3,2.6 4.5,4.0c1.5,1.4 3,2.8 4.4,4.2c1.4,1.4 2.8,2.8 4.2,4.3c1.4,1.5 2.8,3 4.1,4.5c1.4,1.5 2.7,3 4,4.5c1.3,1.5 2.6,3.1 3.8,4.7c1.2,1.6 2.4,3.2 3.6,4.8c1.2,1.6 2.4,3.2 3.6,4.9c1.2,1.6 2.3,3.3 3.4,5.0c1.1,1.7 2.1,3.4 3.2,5.1c1.1,1.7 2.1,3.4 3.1,5.1c1,1.7 2,3.5 3,5.3c1,1.8 1.9,3.5 2.8,5.3c0.9,1.8 1.7,3.6 2.6,5.4c0.9,1.8 1.8,3.6 2.6,5.4c0.9,1.8 1.7,3.7 2.5,5.5c0.8,1.8 1.5,3.6 2.3,5.5c0.8,1.9 1.5,3.8 2.3,5.6c0.8,1.9 1.5,3.6 2.2,5.5c0.7,1.9 1.5,3.7 2.2,5.6c0.7,1.9 1.4,3.8 2.1,5.7c0.7,1.9 1.4,3.7 2.1,5.6c0.7,1.9 1.3,3.8 2,5.7c0.7,1.9 1.4,3.8 2,5.7c0.6,1.9 1.3,3.7 1.9,5.6c0.6,1.9 1.3,3.8 1.9,5.7c0.6,1.9 1.3,3.9 1.9,5.8c0.6,1.9 1.2,3.8 1.8,5.7c0.6,1.9 1.3,3.8 1.9,5.7c0.6,1.9 1.1,3.9 1.7,5.8c0.6,1.9 1.2,3.8 1.8,5.7c0.6,1.9 1.1,3.9 1.7,5.8c0.6,1.9 1.1,3.9 1.7,5.8c0.6,1.9 1.1,3.9 1.7,5.8c0.6,1.9 1.1,3.8 1.7,5.7c0.6,1.9 1.1,3.9 1.6,5.8c0.5,1.9 1.1,3.9 1.6,5.8c0.5,1.9 1.1,3.9 1.6,5.8c0.5,1.9 1.1,3.9 1.6,5.8c0.5,1.9 1.1,4 1.6,5.9c0.5,1.9 1.1,3.9 1.6,5.8c0.5,1.9 1.1,3.9 1.6,5.8c0.5,1.9 1,3.9 1.5,5.8c0.5,1.9 1.1,3.9 1.6,5.8c0.5,1.9 1,3.9 1.5,5.8c0.5,1.9 1,3.9 1.5,5.8c0.5,1.9 1,3.9 1.5,5.9c0.5,2 0.9,3.9 1.4,5.8c0.5,1.9 1,3.9 1.5,5.8c0.5,1.9 1,3.9 1.4,5.9c0.5,2 0.9,3.9 1.3,5.8c0.4,2 0.9,3.9 1.3,5.9c0.4,2 0.9,3.8 1.3,5.8c0.4,2 0.8,3.9 1.2,5.9c0.4,2 0.8,3.9 1.2,5.9c0.4,2 0.7,3.9 1.1,5.9c0.4,2 0.8,3.9 1.1,5.9c0.4,2 0.6,4 1,6.0c0.4,2 0.7,3.9 1.1,5.9c0.4,2 0.7,3.9 1,5.9c0.3,2 0.6,4 1,6.0c0.4,2 0.8,3.9 1.1,5.9c0.4,2 0.6,3.9 1,5.9c0.4,2 0.7,4 1.1,6.0c0.4,2 0.8,3.9 1.1,5.9c0.4,2 0.6,3.9 1,5.9c0.4,2 0.7,3.9 1.1,5.9c0.4,2 0.7,3.9 1.1,5.9c0.4,2 0.7,4 1.1,6.0c0.4,2 0.7,3.9 1.1,5.9c0.4,2 0.7,3.9 1.1,5.9c0.4,2 0.7,3.9 1.1,5.9c0.4,2 0.7,3.9 1.1,5.9c0.4,2 0.8,3.9 1.1,5.9c0.4,2 0.6,4 1,6.0c0.4,2 0.8,3.9 1.1,5.9c0.4,2 0.6,3.9 1,5.9c0.4,2 0.8,3.9 1.1,5.9c0.4,2 0.7,4 1,6.0c0.3,2 0.7,3.9 1,5.9c0.3,2 0.7,3.9 1,5.9c0.3,2 0.7,4 1,6.0c0.3,2 0.6,3.9 0.9,5.9c0.3,2 0.7,3.9 1,5.9c0.3,2 0.6,4 0.9,6.0c0.3,2 0.6,3.9 0.9,5.9c0.3,2 0.6,4 0.9,6.0c0.3,2 0.6,3.9 0.9,5.9c0.3,2 0.6,4 0.9,6.0c0.3,2 0.6,3.9 0.9,5.9c0.3,2 0.6,4 0.9,6.0c0.3,2 0.5,3.9 0.8,5.9c0.3,2 0.6,4 0.9,6.0c0.3,2 0.5,3.9 0.8,5.9c0.3,2 0.5,4 0.8,6.0c0.3,2 0.5,4 0.8,6.0c0.3,2 0.5,3.9 0.8,5.9c0.3,2 0.5,4 0.8,6.0c0.3,2 0.5,3.9 0.8,5.9c0.3,2 0.5,4 0.8,6.0c0.3,2 0.5,4 0.8,6.0c0.3,2 0.5,3.9 0.8,5.9c0.3,2 0.5,4 0.8,6.0c0.2,2 0.5,4 0.7,6.0c0.2,2 0.5,3.9 0.8,5.9c0.3,2 0.5,4 0.8,6.0c0.2,2 0.5,4 0.7,6.0c0.2,2 0.5,3.9 0.8,5.9c0.3,2 0.5,4 0.8,6.0c0.2,2 0.5,4 0.7,6.0c0.2,2 0.5,3.9 0.8,5.9c0.3,2 0.6,4 0.8,6.0c0.2,2 0.4,4 0.7,6.0c0.2,2 0.6,3.9 0.8,5.9c0.2,2 0.4,4 0.7,6.0c0.2,2 0.5,4 0.8,6.0c0.3,2 0.5,3.9 0.8,5.9c0.2,2 0.5,4 0.7,6.0c0.2,2 0.5,4 0.8,6.0c0.3,2 0.5,3.9 0.8,5.9c0.2,2 0.5,4 0.7,6.0c0.2,2 0.5,4 0.8,6.0c0.3,2 0.5,3.9 0.8,5.9c0.2,2 0.5,4 0.7,6.0c0.2,2 0.5,4 0.8,6.0c0.3,2 0.5,3.9 0.8,5.9c0.2,2 0.5,4 0.7,6.0c0.2,2 0.5,4 0.8,6.0c0.3,2 0.6,3.9 0.8,5.9c0.2,2 0.4,4 0.7,6.0c0.2,2 0.6,4 0.8,6.0c0.2,2 0.4,3.9 0.7,5.9c0.2,2 0.5,4 0.8,6.0c0.3,2 0.5,4 0.8,6.0c0.2,2 0.5,3.9 0.7,5.9c0.2,2 0.5,4 0.8,6.0c0.2,2 0.5,4 0.7,6.0c0.2,2 0.5,3.9 0.8,5.9c0.2,2 0.5,4 0.7,6.0c0.2,2 0.5,4 0.8,6.0c0.3,2 0.5,3.9 0.8,5.9c0.2,2 0.5,4 0.7,6.0c0.2,2 0.5,4 0.8,6.0c0.2,2 0.5,4 0.7,6.0c0.2,2 0.5,3.9 0.7,5.9c0.2,2 0.5,4 0.8,6.0c0.2,2 0.5,4 0.7,6.0c0.2,2 0.5,3.9 0.8,5.9c0.2,2 0.5,4 0.7,6.0c0.2,2 0.5,4 0.8,6.0c0.2,2 0.5,3.9 0.7,5.9c0.2,2 0.4,4 0.7,6.0c0.2,2 0.6,4 0.8,6.0c0.2,2 0.5,4 0.7,6.0c0.2,2 0.5,3.9 0.7,5.9c0.2,2 0.5,4 0.7,6.0c0.2,2 0.5,4 0.8,6.0c0.2,2 0.5,3.9 0.7,5.9c0.2,2 0.5,4 0.7,6.0c0.2,2 0.5,4 0.7,6.0c0.2,2 0.4,4 0.7,6.0c0.2,2 0.6,3.9 0.8,5.9c0.2,2 0.5,4 0.7,6.0c0.2,2 0.5,4 0.7,6.0c0.2,2 0.5,4 0.7,6.0c0.2,2 0.5,3.9 0.7,5.9c0.2,2 0.5,4 0.7,6.0c0.2,2 0.5,4 0.8,6.0c0.2,2 0.5,3.9 0.7,5.9c0.2,2 0.5,4 0.7,6.0c0.2,2 0.5,4 0.7,6.0c0.2,2 0.5,4 0.7,6.0c0.2,2 0.5,3.9 0.7,5.9c0.2,2 0.5,4 0.7,6.0c0.2,2 0.5,4 0.7,6.0c0.2,2 0.5,4 0.7,6.0c0.2,2 0.5,3.9 0.7,5.9c0.2,2 0.5,4 0.8,6.0c0.2,2 0.5,4 0.7,6.0c0.2,2 0.5,4 0.7,6.0c0.2,2 0.5,3.9 0.7,5.9c0.2,2 0.5,4 0.7,6.0c0.2,2 0.5,4 0.7,6.0c0.2,2 0.5,4 0.7,6.0c0.2,2 0.5,3.9 0.7,5.9c0.2,2 0.5,4 0.7,6.0c0.2,2 0.5,4 0.8,6.0c0.2,2 0.5,4 0.7,6.0c0.2,2 0.5,3.9 0.7,5.9c0.2,2 0.5,4 0.7,6.0c0.2,2 0.5,4 0.7,6.0c0.2,2 0.5,4 0.7,6.0c0.2,2 0.5,3.9 0.8,5.9c0.2,2 0.5,4 0.7,6.0c0.2,2 0.5,4 0.7,6.0c0.2,2 0.5,3.9 0.8,5.9c0.3,2 0.5,4 0.8,6.0c0.2,2 0.5,4 0.7,6.0c0.2,2 0.5,3.9 0.8,5.9c0.3,2 0.5,4 0.8,6.0c0.3,2 0.6,3.9 0.9,5.9c0.3,2 0.5,4 0.8,6.0c0.3,2 0.6,3.9 0.9,5.9c0.3,2 0.6,4 0.9,6.0c0.3,2 0.6,3.9 0.9,5.9c0.3,2 0.7,4 1,6.0c0.3,2 0.6,3.9 0.9,5.9c0.3,2 0.8,3.9 1.1,5.9c0.4,2 0.7,4 1,6.0c0.3,2 0.7,3.9 1.1,5.9c0.4,2 0.3,4 1.1,5.9c0.8,1.9 2.1,3.7 3.6,5.5c1.5,1.8 3.6,4.6 5.5,5.5c1.9,0.9 4-0.1 6-0.1c2-0 4-0.1 6-0.1c2-0 4-0.2 6-0.2c2-0 4.1-0.1 6.1-0.1c2-0 4-0.1 6-0.1c2-0 4-0.1 6-0.1c2-0 4-0.2 6-0.2c2-0 4-0.1 6-0.1c2-0 4-0.1 6-0.1c2-0 4.1-0.1 6.1-0.1c2-0 4-0.2 6-0.2c2-0 4-0.1 6-0.1c2-0 4-0 6-0.1c2-0 4-0.2 6-0.2c2-0 4-0.1 6-0.1c2-0 4.1-0 6.1-0.1c2-0 4-0.2 6-0.2c2-0 4-0 6-0.1c2-0 4-0.2 6-0.2c2-0 4-0.1 6-0.1c2-0 4-0.1 6-0.1c2-0 4-0.2 6-0.2c2-0 4.1-0 6.1-0.1c2-0 4-0.2 6-0.2c2-0 4-0.1 6-0.1c2-0 4-0.1 6-0.1c2-0 4-0.1 6-0.2c2-0 4-0.1 6-0.1c2-0 4.1-0.2 6.1-0.2c2-0 4-0 6-0.1c2-0 4-0.2 6-0.2c2-0 4-0 6-0.1c2-0 4-0.2 6-0.2c2-0 4-0 6-0.1c2-0 4-0.2 6-0.2c2-0 4.1-0.1 6.1-0.1c2-0 4-0.1 6-0.2c2-0 4-0.1 6-0.1c2-0 4-0.2 6-0.2c2-0 4-0 6-0.1c2-0 4-0.2 6-0.2c2-0 4.1-0 6.1-0.1c2-0 4-0.1 6-0.2c2-0.1 4-0.2 6-0.2c2-0 4-0 6-0.1c2-0 4-0.2 6-0.2c2-0 4-0 6-0.1c2-0 4.1-0.2 6.1-0.2c2-0 4-0.1 6-0.1c2-0 4-0.1 6-0.2c2-0.1 4-0.2 6-0.2c2-0 4-0.1 6-0.1c2-0 4-0.1 6-0.2c2-0 4-0.1 6-0.1c2-0 4.1-0.1 6.1-0.2c2-0.1 4-0.1 6-0.2c2-0 4-0.1 6-0.1c2-0 4-0.2 6-0.2c2-0 4-0 6-0.1c2-0 4-0.1 6-0.2c2-0.1 4.1-0.2 6.1-0.2c2-0 4-0 6-0.1c2-0 4-0.2 6-0.2c2-0 4-0 6-0.1c2-0 4-0.1 6-0.2c2-0.1 4-0.2 6-0.2c2-0 4-0 6-0.1c2-0 4.1-0.2 6.1-0.2c2-0 4-0 6-0.1c2-0 4-0.1 6-0.2c2-0.1 4-0.2 6-0.2c2-0 4-0 6-0.1c2-0 4-0.2 6-0.2c2-0 4.1-0.1 6.1-0.1c2-0 4-0.1 6-0.2c2-0.1 4-0.2 6-0.2c2-0 4-0.1 6-0.1c2-0 4-0.1 6-0.2c2-0 4-0.1 6-0.1c2-0 4-0.2 6-0.2c2-0 4.1-0 6.1-0.1c2-0 4-0.1 6-0.2c2-0.1 4-0.2 6-0.2c2-0 4-0 6-0.1c2-0 4-0.2 6-0.2c2-0 4-0 6-0.1c2-0 4.1-0.2 6.1-0.2c2-0 4-0 6-0.1c2-0 4-0.1 6-0.2c2-0.1 4-0.2 6-0.2c2-0 4-0 6-0.1c2-0 4-0.2 6-0.2c2-0 4-0.1 6-0.1c2-0 4.1-0.1 6.1-0.2c2-0 4-0.1 6-0.1c2-0 4-0.2 6-0.2c2-0 4-0 6-0.1c2-0 4-0.2 6-0.2c2-0 4-0 6-0.1c2-0 4.1-0.2 6.1-0.2c2-0 4-0 6-0.1c2-0 4-0.2 6-0.2c2-0 4-0.1 6-0.1c2-0 4-0.1 6-0.2c2-0 4-0.1 6-0.1c2-0 4-0.2 6-0.2c2-0 4.1-0 6.1-0.1c2-0 4-0.2 6-0.2c2-0 4-0.1 6-0.1c2-0 4-0.1 6-0.1c2-0 4-0.1 6-0.2c2-0 4-0.1 6-0.1c2-0 4.1-0.2 6.1-0.2c2-0 4-0.1 6-0.1c2-0 4-0 6-0.1c2-0 4-0.2 6-0.2c2-0 4-0.1 6-0.1c2-0 4-0 6-0.1c2-0 4.1-0.2 6.1-0.2c2-0 4-0.1 6-0.1c2-0 4-0.1 6-0.1c2-0 4-0.1 6-0.2c2-0 4-0.1 6-0.1c2-0 4-0 6-0.1c2-0 4-0.2 6-0.2c2-0 4.1-0.1 6.1-0.1c2-0 4-0.1 6-0.1c2-0 4-0 6-0.1c2-0 4-0.2 6-0.2c2-0 4-0.1 6-0.1c2-0 4-0.1 6-0.1c2-0 4.1-0.1 6.1-0.1c2-0 4-0.1 6-0.1c2-0 4-0.1 6-0.2c2-0 4-0.1 6-0.1c2-0 4-0.1 6-0.1c2-0 4-0.1 6-0.1c2-0 4.1-0.1 6.1-0.1c2-0 4-0.1 6-0.1c2-0 4-0.1 6-0.1c2-0 4-0.1 6-0.1c2-0 4-0.1 6-0.1c2-0 4-0 6-0.1c2-0 4.1-0.2 6.1-0.2c2-0 4-0.1 6-0.1c2-0 4-0.1 6-0.1c2-0 4-0.1 6-0.1c2-0 4,0 6,0.0c2-0 4-0.1 6-0.1c2-0 4.1-0.1 6.1-0.1c2-0 4-0.1 6-0.1c2-0 4-0.1 6-0.1c2-0 4-0.1 6-0.1c2-0 4-0.1 6-0.1c2-0 4-0.1 6-0.1c2-0 4.1-0.1 6.1-0.1c2-0 4,0 6,0.0c2-0 4-0.1 6-0.1c2-0 4-0.1 6-0.1c2-0 4-0.1 6-0.1c2-0 4-0.1 6-0.1c2-0 4.1,0 6.1,0.0c2-0 4-0.1 6-0.1c2-0 4-0.1 6-0.1c2-0 4,0 6,0.0c2-0 4-0.1 6-0.1c2-0 4-0.1 6-0.1c2-0 4.1,0 6.1,0.0c2-0 4-0.1 6-0.1c2-0 4,0 6,0.0c2-0 4-0.1 6-0.1c2-0 4-0.1 6-0.1c2-0 4.1,0 6.1,0.0c2-0 4-0.1 6-0.1c2-0 4,0 6,0.0c2,0 4,0 6,0.0c2-0 4-0.1 6-0.1c2-0 4,0 6,0.0c2-0 4.1-0.1 6.1-0.1c2-0 4,0 6,0.0c2,0 4,0 6,0.0c2-0 4-0.1 6-0.1c2-0 4,0 6,0.0c2,0 4,0 6,0.0c2-0 4.1-0.1 6.1-0.1c2-0 4,0 6,0.0c2,0 5,0 6,0.0"/>
<path class="c" stroke="#000080" d="M304,227.5c0.3-0.4 1-1.8 1.7-2.6c0.7-0.8 1.8-1.4 2.7-1.9c0.9-0.5 2-0.8 3-1.2c1-0.4 1.4-0.8 2.9-1.0c1.5-0.2 4-0.3 6-0.4c2-0.1 4-0.3 6-0.4c2-0.1 4-0.2 6-0.3c2-0.1 4-0.2 6-0.3c2-0.1 4.1-0.1 6.1-0.2c2-0.1 4-0.1 6-0.2c2-0.1 4-0.1 6-0.2c2-0.1 4-0.1 6-0.1c2-0 4-0.1 6-0.1c2-0 4-0.1 6-0.1c2-0 4,0 6,0.0c2,0 4,0 6,0.0c2,0 4,0 6,0.0c2,0 4-0 6,0.0c2,0 4,0.1 6,0.1c2,0 4-0 6,0.0c2,0 4,0.1 6,0.1c2,0 4,0.1 6,0.1c2,0 4,0.1 6,0.1c2,0 4.1,0.1 6.1,0.1c2,0 4,0 6,0.1c2,0.1 4,0.2 6,0.2c2,0.1 4,0.1 6,0.1c2,0 4,0 6,0.1c2,0.1 4,0.1 6,0.2c2,0.1 4,0.1 6,0.1c2,0 4,0.1 6,0.1c2,0 4.1,0 6.1,0.1c2,0.1 4,0.1 6,0.2c2,0.1 4,0.1 6,0.1c2,0 4,0.1 6,0.1c2,0 4,0 6,0.1c2,0.1 4,0.1 6,0.2c2,0.1 4.1,0.1 6.1,0.1c2,0 4,0.1 6,0.1c2,0 4,0.2 6,0.2c2,0 4,0 6,0.1c2,0.1 4,0.2 6,0.2c2,0.1 4.1,0 6.1,0.1c2,0.1 4,0.1 6,0.2c2,0.1 4,0.1 6,0.1c2,0.1 4,0.1 6,0.2c2,0.1 4,0.1 6,0.2c2,0.1 4.1,0.1 6.1,0.2c2,0.1 4,0.1 6,0.2c2,0.1 4,0.1 6,0.2c2,0.1 4,0.1 6,0.2c2,0.1 4,0.1 6,0.2c2,0.1 4,0.1 6,0.2c2,0.1 4,0.2 6,0.3c2,0.1 4,0.1 6,0.2c2,0.1 4,0.2 6,0.3c2,0.1 4,0.2 6,0.3c2,0.1 4.1,0.2 6.1,0.3c2,0.1 3.9,0.2 5.9,0.3c2,0.1 4,0.2 6,0.3c2,0.1 4,0.2 6,0.3c2,0.1 4,0.3 6,0.4c2,0.1 4,0.3 6,0.4c2,0.1 4,0.2 6,0.3c2,0.1 4,0.2 6,0.4c2,0.2 4,0.3 6,0.5c2,0.2 4,0.2 6,0.4c2,0.2 3.9,0.3 5.9,0.5c2,0.2 4,0.2 6,0.4c2,0.2 4,0.3 6,0.5c2,0.2 3.9,0.4 5.9,0.6c2,0.2 4,0.3 6,0.5c2,0.2 4,0.5 6,0.7c2,0.2 3.9,0.4 5.9,0.6c2,0.2 4,0.4 6,0.7c2,0.2 4,0.5 6,0.8c2,0.3 4,0.5 6,0.8c2,0.3 3.9,0.6 5.9,0.9c2,0.3 4,0.7 6,1.0c2,0.3 4,0.7 6,1.0c2,0.3 4,0.7 6,1.1c2,0.4 3.9,0.9 5.9,1.3c2,0.4 4,0.8 6,1.3c2,0.5 3.9,1 5.9,1.5c2,0.5 3.9,1.1 5.8,1.7c1.9,0.6 3.8,1.2 5.7,1.9c1.9,0.7 3.8,1.3 5.6,2.1c1.9,0.8 3.7,1.6 5.5,2.4c1.8,0.8 3.6,1.7 5.3,2.6c1.8,0.9 3.5,1.9 5.2,2.9c1.7,1 3.3,2 5,3.1c1.7,1.1 3.4,2.2 5,3.3c1.6,1.1 3.1,2.4 4.7,3.6c1.6,1.2 3.1,2.4 4.7,3.7c1.5,1.3 3.1,2.6 4.6,3.9c1.5,1.3 2.9,2.7 4.4,4.1c1.5,1.4 3,2.8 4.4,4.2c1.4,1.4 2.8,2.9 4.2,4.3c1.4,1.4 2.8,2.9 4.2,4.4c1.4,1.5 2.8,3 4.1,4.5c1.4,1.5 2.7,3.1 4,4.6c1.3,1.5 2.6,3 3.9,4.6c1.3,1.6 2.6,3.1 3.9,4.7c1.3,1.6 2.5,3.1 3.8,4.6c1.3,1.5 2.6,3.1 3.9,4.6c1.3,1.5 2.7,2.9 4.1,4.3c1.4,1.4 2.7,2.7 4.2,4.0c1.5,1.3 3,2.6 4.6,3.7c1.6,1.1 3.2,2.2 4.9,3.2c1.7,1 3.5,1.9 5.3,2.7c1.8,0.8 3.8,1.6 5.7,2.3c1.9,0.7 3.8,1.3 5.8,1.9c2,0.6 3.9,1.1 5.9,1.7c2,0.6 4,1.1 6,1.6c2,0.5 3.9,1.1 5.8,1.6c1.9,0.5 3.9,1 5.8,1.5c1.9,0.5 3.9,1 5.8,1.6c1.9,0.6 3.8,1.2 5.7,1.8c1.9,0.6 3.8,1.3 5.7,2.0c1.9,0.7 3.8,1.4 5.6,2.1c1.9,0.8 3.7,1.6 5.5,2.4c1.8,0.8 3.6,1.7 5.4,2.6c1.8,0.9 3.5,1.9 5.3,2.9c1.8,1 3.5,1.9 5.2,3.0c1.7,1.1 3.4,2.2 5,3.3c1.6,1.1 3.3,2.3 4.9,3.5c1.6,1.2 3.1,2.5 4.6,3.8c1.5,1.3 3,2.6 4.5,4.0c1.5,1.4 2.8,2.8 4.2,4.3c1.4,1.5 2.7,3 4,4.5c1.3,1.5 2.5,3.1 3.8,4.7c1.2,1.6 2.5,3.2 3.7,4.8c1.2,1.6 2.4,3.2 3.5,4.9c1.1,1.7 2.3,3.4 3.4,5.1c1.1,1.7 2.2,3.3 3.3,5.0c1.1,1.7 2.1,3.4 3.1,5.1c1,1.7 2.3,3.3 3.1,5.1c0.8,1.8 1.2,3.9 1.7,5.8c0.5,1.9 1.1,3.9 1.6,5.8c0.5,1.9 1,3.9 1.5,5.8c0.5,1.9 0.9,3.9 1.4,5.8c0.5,1.9 0.9,3.9 1.3,5.9c0.4,2 0.8,3.9 1.2,5.9c0.4,2 0.8,3.9 1.2,5.9c0.4,2 0.8,3.9 1.1,5.9c0.3,2 0.7,3.9 1,5.9c0.3,2 0.7,3.9 1,5.9c0.3,2 0.7,3.9 1,5.9c0.3,2 0.6,4 0.9,6.0c0.3,2 0.5,3.9 0.8,5.9c0.3,2 0.5,4 0.8,6.0c0.3,2 0.5,4 0.8,6.0c0.3,2 0.5,3.9 0.8,5.9c0.2,2 0.5,4 0.7,6.0c0.2,2 0.4,4 0.6,6.0c0.2,2 0.5,4 0.7,6.0c0.2,2 0.4,4 0.6,6.0c0.2,2 0.4,4 0.6,6.0c0.2,2 0.4,4 0.6,6.0c0.2,2 0.3,4 0.5,6.0c0.2,2 0.3,4 0.5,6.0c0.2,2 0.3,4 0.5,6.0c0.2,2 0.3,4 0.5,6.0c0.2,2 0.3,4 0.5,6.0c0.2,2 0.3,4 0.5,6.0c0.2,2 0.3,4 0.5,6.0c0.2,2 0.2,4 0.4,6.0c0.2,2 0.3,4 0.5,6.0c0.2,2 0.2,4 0.4,6.0c0.1,2 0.3,4 0.5,6.0c0.2,2 0.2,4 0.4,6.0c0.2,2 0.4,4.1 0.5,6.1c0.1,2 0.3,4 0.4,6.0c0.1,2 0.3,4 0.4,6.0c0.1,2 0.2,4 0.4,6.0c0.2,2 0.3,4 0.5,6.0c0.2,2 0.3,4 0.4,6.0c0.1,2 0.3,4 0.4,6.0c0.1,2 0.3,4 0.4,6.0c0.1,2 0.3,4 0.4,6.0c0.1,2 0.3,4 0.4,6.0c0.1,2 0.3,4 0.4,6.0c0.1,2 0.3,4 0.4,6.0c0.1,2 0.3,4 0.4,6.0c0.1,2 0.2,4 0.3,6.0c0.1,2 0.3,4 0.4,6.0c0.1,2 0.3,4 0.4,6.0c0.1,2 0.2,4 0.3,6.0c0.1,2 0.3,4 0.4,6.0c0.1,2 0.2,4 0.3,6.0c0.1,2 0.2,4 0.3,6.0c0.1,2 0.3,4 0.4,6.0c0.1,2 0.2,4 0.3,6.0c0.1,2 0.2,4.1 0.3,6.1c0.1,2 0.2,4 0.3,6.0c0.1,2 0.2,4 0.3,6.0c0.1,2 0.3,4 0.4,6.0c0.1,2 0.2,4 0.3,6.0c0.1,2 0.3,4 0.4,6.0c0.1,2 0.3,4 0.4,6.0c0.1,2 0.3,4 0.4,6.0c0.1,2 0.2,4 0.4,6.0c0.2,2 0.4,4 0.6,6.0c0.2,2 0.3,4 0.5,6.0c0.2,2 0.4,4 0.6,6.0c0.2,2 0.4,4 0.6,6.0c0.2,2 0.5,4 0.8,6.0c0.2,2 0.4,3.9 0.7,5.9c0.3,2 0.6,4 0.9,6.0c0.3,2 0.6,3.9 0.9,5.9c0.3,2 0.7,4 1,6.0c0.3,2 0.7,3.9 1.1,5.9c0.4,2 0.3,4.2 1.2,5.9c0.9,1.8 2.7,3.1 4.1,4.6c1.4,1.5 2.8,2.9 4.3,4.3c1.5,1.4 3,2.7 4.5,4.0c1.5,1.3 3.2,2.4 4.8,3.6c1.6,1.2 3.2,2.3 4.9,3.4c1.7,1.1 3.3,2.1 5,3.1c1.7,1 3.5,2 5.3,2.9c1.8,0.9 3.5,1.8 5.3,2.7c1.8,0.9 3.7,1.6 5.5,2.4c1.8,0.8 3.7,1.6 5.5,2.3c1.8,0.7 3.7,1.4 5.6,2.1c1.9,0.7 3.8,1.3 5.7,1.9c1.9,0.6 3.9,1.3 5.8,1.9c1.9,0.6 3.8,1.1 5.7,1.7c1.9,0.6 3.8,1.2 5.8,1.7c2,0.5 4,1 5.9,1.5c2,0.5 3.9,1.1 5.8,1.6c1.9,0.5 3.8,1 5.8,1.5c2,0.5 3.9,0.9 5.9,1.4c2,0.5 4,0.9 5.9,1.4c2,0.5 3.8,1 5.8,1.4c2,0.4 3.9,0.9 5.9,1.3c2,0.4 3.9,0.9 5.8,1.3c2,0.4 3.9,0.8 5.9,1.2c2,0.4 3.9,0.8 5.9,1.2c2,0.4 3.9,0.8 5.9,1.2c2,0.4 3.9,0.8 5.9,1.1c2,0.4 3.9,0.7 5.9,1.0c2,0.3 3.9,0.7 5.9,1.0c2,0.3 3.9,0.7 5.9,1.0c2,0.3 4,0.6 6,0.9c2,0.3 3.9,0.6 5.9,0.9c2,0.3 3.9,0.6 5.9,0.9c2,0.3 4,0.5 6,0.8c2,0.2 3.9,0.5 5.9,0.7c2,0.2 4,0.5 6,0.8c2,0.2 4,0.5 6,0.7c2,0.2 3.9,0.5 5.9,0.7c2,0.2 4,0.4 6,0.6c2,0.2 4,0.4 6,0.6c2,0.2 4,0.4 6,0.6c2,0.2 4,0.4 6,0.6c2,0.2 4,0.4 6,0.6c2,0.2 4,0.3 6,0.5c2,0.2 4,0.3 6,0.5c2,0.2 3.9,0.4 5.9,0.5c2,0.1 4,0.3 6,0.4c2,0.1 4,0.4 6,0.5c2,0.1 4,0.3 6,0.4c2,0.1 4,0.2 6,0.4c2,0.1 4,0.4 6,0.5c2,0.1 4,0.3 6,0.4c2,0.1 4,0.2 6,0.3c2,0.1 4,0.3 6,0.4c2,0.1 4,0.3 6,0.4c2,0.1 4,0.2 6,0.3c2,0.1 4,0.3 6,0.4c2,0.1 4,0.2 6,0.3c2,0.1 4,0.3 6,0.4c2,0.1 4,0.2 6,0.3c2,0.1 4,0.2 6,0.3c2,0.1 4,0.2 6,0.3c2,0.1 4,0.2 6,0.3c2,0.1 4,0.1 6,0.2c2,0.1 4,0.2 6,0.3c2,0.1 4,0.2 6,0.3c2,0.1 4.1,0.1 6.1,0.2c2,0.1 4,0.2 6,0.3c2,0.1 4,0.1 6,0.2c2,0.1 4,0.1 6,0.2c2,0.1 4,0.1 6,0.2c2,0.1 4,0.1 6,0.2c2,0.1 4,0.1 6,0.2c2,0.1 4,0.1 6,0.2c2,0.1 4,0.1 6,0.2c2,0.1 4,0.1 6,0.2c2,0.1 4,0.1 6,0.2c2,0.1 4,0.1 6,0.2c2,0 4,0.1 6,0.1c2,0 4,0.1 6,0.2c2,0.1 4,0.1 6,0.2c2,0 4,0.1 6,0.1c2,0 4.1,0.1 6.1,0.2c2,0.1 4,0.1 6,0.2c2,0 4,0.1 6,0.1c2,0 4,0.2 6,0.2c2,0 4,0 6,0.1c2,0 4,0.1 6,0.2c2,0.1 4,0.2 6,0.2c2,0 4,0 6,0.1c2,0 4,0.1 6,0.2c2,0.1 4,0.2 6,0.2c2,0 4.1,0 6.1,0.1c2,0 4,0.1 6,0.2c2,0.1 4,0.1 6,0.2c2,0.1 4,0.1 6,0.2c2,0 4,0.1 6,0.1c2,0 4,0.1 6,0.2c2,0.1 4,0.1 6,0.2c2,0.1 4,0.2 6,0.3c2,0.1 4,0.1 6,0.2c2,0.1 4,0.1 6,0.2c2,0.1 4,0.1 6,0.2c2,0.1 4,0.2 6,0.3c2,0.1 4,0.1 6,0.2c2,0.1 4,0.2 6,0.3c2,0.1 4,0.2 6,0.3c2,0.1 4,0.1 6,0.2c2,0.1 4,0.2 6,0.3c2,0.1 4,0.2 6,0.3c2,0.1 4,0.3 6,0.4c2,0.1 4,0.2 6,0.3c2,0.1 4,0.3 6,0.4c2,0.1 4,0.3 6,0.4c2,0.1 4,0.3 6,0.4c2,0.1 4,0.3 6,0.4c2,0.1 4,0.2 6,0.4c2,0.1 4,0.3 6,0.5c2,0.2 4,0.3 6,0.5c2,0.2 4,0.4 6,0.6c2,0.2 4,0.3 6,0.5c2,0.2 3.9,0.4 5.9,0.6c2,0.2 4,0.4 6,0.6c2,0.2 4,0.4 6,0.6c2,0.2 4,0.4 6,0.6c2,0.2 4,0.4 6,0.6c2,0.2 4,0.4 6,0.6c2,0.2 3.9,0.4 5.9,0.6c2,0.2 4,0.4 6,0.6c2,0.2 4,0.4 6,0.6c2,0.2 4,0.4 6,0.6c2,0.2 4,0.3 6,0.5c2,0.2 4,0.3 6,0.5c2,0.2 4,0.3 6,0.5c2,0.2 3.9,0.4 5.9,0.5c2,0.1 4,0.3 6,0.4c2,0.1 4,0.3 6,0.4c2,0.1 4,0.3 6,0.4c2,0.1 4,0.3 6,0.4c2,0.1 4,0.2 6,0.3c2,0.1 4,0.3 6,0.4c2,0.1 4,0.2 6,0.3c2,0.1 4,0.2 6,0.3c2,0.1 4,0.2 6,0.3c2,0.1 4,0.2 6,0.3c2,0.1 4,0.1 6,0.2c2,0.1 4,0.2 6,0.3c2,0.1 4,0.1 6,0.2c2,0.1 4,0.1 6,0.2c2,0.1 4.1,0.1 6.1,0.2c2,0.1 4,0.1 6,0.2c2,0.1 4,0.1 6,0.2c2,0.1 4,0.1 6,0.2c2,0.1 4,0.1 6,0.2c2,0.1 4,0.1 6,0.2c2,0.1 4,0.1 6,0.2c2,0.1 4,0.2 6,0.2c2,0 4,0.1 6,0.1c2,0 4,0.1 6,0.2c2,0.1 4,0.1 6,0.2c2,0.1 4.1,0.2 6.1,0.2c2,0 4,0 6,0.1c2,0 4,0.1 6,0.2c2,0.1 4,0.1 6,0.2c2,0.1 4,0.1 6,0.2c2,0.1 4,0.1 6,0.2c2,0.1 4,0.1 6,0.2c2,0.1 4,0.1 6,0.2c2,0.1 4,0.1 6,0.2c2,0.1 4,0.2 6,0.3c2,0.1 4,0.1 6,0.2c2,0.1 4,0.1 6,0.2c2,0.1 4,0.2 6,0.3c2,0.1 4,0.2 6,0.3c2,0.1 4,0.1 6,0.2c2,0.1 4,0.2 6,0.3c2,0.1 4,0.2 6,0.3c2,0.1 4.1,0.2 6.1,0.3c2,0.1 4,0.2 6,0.3c2,0.1 4,0.2 6,0.3c2,0.1 4,0.1 6,0.2c2,0.1 4,0.2 6,0.3c2,0.1 4,0.2 6,0.3c2,0.1 4,0.3 6,0.4c2,0.1 4,0.2 6,0.3c2,0.1 4,0.2 6,0.3c2,0.1 4,0.2 6,0.3c2,0.1 4,0.2 6,0.3c2,0.1 4,0.2 6,0.3c2,0.1 4,0.2 6,0.3c2,0.1 4,0.1 6,0.2c2,0.1 4,0.2 6,0.3c2,0.1 4,0.2 6,0.3c2,0.1 5,0.2 6,0.3"/>
</g>
<g id="marker" fill="#00ffff">
<rect x="674.1" y="145.4" width="8.2" height="19.6" rx="3" ry="3"/>
<rect x="674.1" y="177.2" width="8.2" height="19.6" rx="3" ry="3"/>
<rect x="674.1" y="209.0" width="8.2" height="19.6" rx="3" ry="3"/>
<rect x="674.1" y="240.8" width="8.2" height="19.6" rx="3" ry="3"/>
<rect x="674.1" y="272.6" width="8.2" height="19.6" rx="3" ry="3"/>
<rect x="674.1" y="304.4" width="8.2" height="19.6" rx="3" ry="3"/>
<rect x="674.1" y="336.2" width="8.2" height="19.6" rx="3" ry="3"/>
<rect x="674.1" y="368.0" width="8.2" height="19.6" rx="3" ry="3"/>
<rect x="674.1" y="399.8" width="8.2" height="19.6" rx="3" ry="3"/>
</g>
<g id="ylabels" text-anchor="end">
<text transform="translate(248.7,1591.6) scale(1,1.027)">0</text>
<text transform="translate(248.7,1457.7) scale(1,1.027)">10</text>
<text transform="translate(248.7,1323.9) scale(1,1.027)">20</text>
<text transform="translate(248.7,1190.0) scale(1,1.027)">30</text>
<text transform="translate(248.7,1056.1) scale(1,1.027)">40</text>
<text transform="translate(248.7,922.3) scale(1,1.027)">50</text>
<text transform="translate(248.7,788.4) scale(1,1.027)">60</text>
<text transform="translate(248.7,654.6) scale(1,1.027)">70</text>
<text transform="translate(248.7,520.7) scale(1,1.027)">80</text>
<text transform="translate(248.7,386.8) scale(1,1.027)">90</text>
<text transform="translate(248.7,253.0) scale(1,1.027)">100</text>
<text transform="translate(248.7,119.1) scale(1,1.027)">110</text>
</g>
<g id="xlabels" text-anchor="middle">
<text transform="translate(474.3,1685.0) scale(1,1.027)">100</text>
<text transform="translate(696.2,1685.0) scale(1,1.027)">200</text>
<text transform="translate(918.0,1685.0) scale(1,1.027)">300</text>
<text transform="translate(1139.9,1685.0) scale(1,1.027)">400</text>
<text transform="translate(1361.8,1685.0) scale(1,1.027)">500</text>
<text transform="translate(1583.7,1685.0) scale(1,1.027)">600</text>
<text transform="translate(1805.5,1685.0) scale(1,1.027)">700</text>
<text transform="translate(2027.4,1685.0) scale(1,1.027)">800</text>
<text transform="translate(2249.3,1685.0) scale(1,1.027)">900</text>
</g>
<text id="ytitle" transform="translate(123.4,1065.4) rotate(-90) scale(1,1.035)" letter-spacing="0.45">Mass(%)</text>
<text transform="translate(1065.0,1783.6) scale(1,1.035)" id="xtitle" letter-spacing="-0.25">Temperature(°<tspan dx="-4.5">C</tspan>)</text>
<text transform="translate(553.5,556.0) scale(1,1.035)" fill="#00ffff">180°<tspan dx="-5">C</tspan></text>
<text transform="translate(1381.3,315.6) scale(1,1.035)" fill="#ff80ff">CS</text>
<text transform="translate(1344.0,826.1) scale(1,1.035)" fill="#0000ff">EMAP</text>
<text transform="translate(1368.9,1060.8) scale(1,1.035)" fill="#a0a0a0">EPWP</text>
<text transform="translate(913.2,1437.0) scale(1,1.035)" fill="#ff0000">MA</text>
<text transform="translate(1436.0,1454.8) scale(1,1.035)" fill="#008000">PW</text>
</svg>
</body>
</html>
